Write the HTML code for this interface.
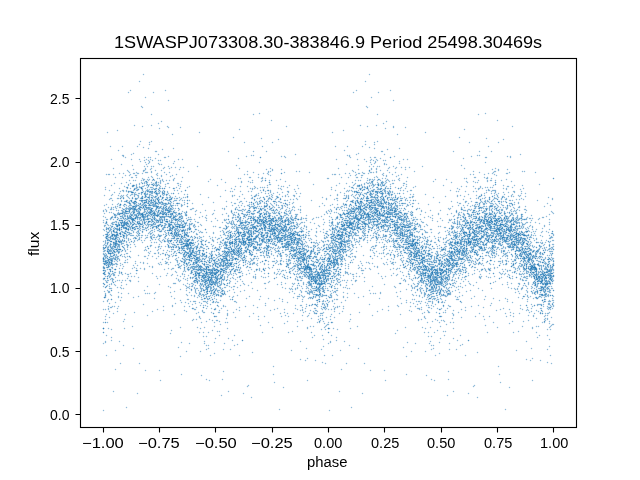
<!DOCTYPE html><html><head><meta charset="utf-8"><title>1SWASPJ073308.30-383846.9</title><style>
html,body{margin:0;padding:0;background:#fff}
body{width:640px;height:480px;position:relative;overflow:hidden;font-family:"Liberation Sans",sans-serif;color:#000}
.t{position:absolute;white-space:nowrap;line-height:1;transform-origin:0 0;will-change:transform}

</style></head><body>
<svg width="640" height="480" viewBox="0 0 640 480" style="position:absolute;left:0;top:0">
<defs>
<path id="a" d="M143 74.5h1m225 0h1M139 81.5h1m225 0h1M130 90.5h1m34 0h1m190 0h1m33 0h1M128 92.5h1m24 0h1m199 0h1m24 0h1M145 97.5h1m225 0h1M168 100.5h1m224 0h1M141 106.5h1m224 0h1M142 107.5h1m224 0h1M259 113.5h1m225 0h1M151 114.5h1m101 0h1m123 0h1m100 0h1M271 120.5h1m225 0h1M161 121.5h1m224 0h1M158 123.5h1m224 0h1M134 125.5h1m16 0h1m208 0h1m15 0h1M142 126.5h1m24 0h1m118 0h1m80 0h1m25 0h1m118 0h1M168 127.5h1m11 0h1m212 0h1m11 0h1M159 128.5h1m225 0h1M239 129.5h1m224 0h1M117 130.5h1m225 0h1M107 132.5h1m91 0h1m132 0h1m92 0h1M172 134.5h1m224 0h1M233 137.5h1m225 0h1M261 138.5h1m224 0h1M278 139.5h1m224 0h1M140 141.5h1m10 0h1m213 0h1m11 0h1M149 142.5h1m94 0h1m27 0h1m101 0h1m94 0h1m28 0h1M139 144.5h1m9 0h1m215 0h1m8 0h1M110 146.5h1m11 0h1m14 0h1m124 0h1m72 0h1m11 0h1m14 0h1m125 0h1M143 147.5h1m225 0h1M148 148.5h1m24 0h1m200 0h1m24 0h1M162 149.5h1m224 0h1M118 150.5h1m225 0h1M155 151.5h2m71 0h1m24 0h1m12 0h1m114 0h2m70 0h1m25 0h1m11 0h1M133 153.5h1m224 0h1M131 154.5h1m26 0h1m136 0h1m60 0h1m27 0h1m135 0h1M122 155.5h2m127 0h1m1 0h1m93 0h1m1 0h1m127 0h1m1 0h1M123 156.5h1m44 0h1m77 0h1m34 0h1m2 0h1m64 0h1m44 0h1m76 0h1m35 0h1m2 0h1M125 157.5h1m18 0h1m3 0h1m1 0h1m13 0h2m119 0h1m64 0h1m19 0h1m3 0h2m109 0h2m23 0h1M155 158.5h1m82 0h1m141 0h1m82 0h1M111 159.5h1m19 0h1m7 0h1m6 0h1m3 0h1m27 0h1m3 0h1m153 0h1m20 0h1m6 0h1m6 0h1m4 0h1m26 0h1m3 0h1M144 160.5h1m3 0h1m3 0h1m5 0h1m1 0h1m209 0h1m2 0h1m3 0h1m5 0h1m1 0h1M140 161.5h1m8 0h1m24 0h1m191 0h1m8 0h1m23 0h1M145 162.5h1m3 0h1m109 0h1m110 0h1m4 0h1m109 0h1M148 163.5h1m9 0h1m14 0h1m200 0h1m9 0h1m14 0h1M121 164.5h1m24 0h1m12 0h1m1 0h1m184 0h1m24 0h1m12 0h1m1 0h1M132 165.5h1m103 0h1m121 0h1m102 0h1M144 166.5h1m2 0h1m3 0h1m1 0h1m14 0h1m28 0h1m171 0h1m3 0h1m3 0h1m1 0h1m13 0h1m28 0h1M164 167.5h1m6 0h1m3 0h1m4 0h1m2 0h1m205 0h1m6 0h1m4 0h1m3 0h1m3 0h1M113 168.5h1m31 0h1m5 0h1m11 0h1m5 0h1m69 0h1m30 0h1m67 0h1m32 0h1m4 0h1m11 0h1m6 0h1m68 0h1m30 0h1M133 169.5h1m11 0h1m4 0h1m28 0h1m86 0h1m5 0h1m8 0h1m76 0h1m12 0h1m4 0h1m28 0h1m86 0h1m5 0h1m8 0h1M127 170.5h1m15 0h2m10 0h1m5 0h1m110 0h1m79 0h1m27 0h1m6 0h1m110 0h1M128 171.5h1m14 0h1m7 0h1m36 0h1m58 0h1m20 0h1m1 0h1m25 0h1m2 0h1m53 0h1m15 0h1m6 0h1m37 0h1m58 0h1m20 0h2m26 0h1m1 0h1M129 172.5h1m6 0h1m8 0h3m3 0h1m12 0h1m4 0h1m83 0h1m14 0h1m15 0h1m24 0h1m45 0h1m6 0h1m7 0h2m1 0h1m2 0h1m12 0h1m5 0h1m83 0h1m13 0h1m15 0h1m25 0h1M119 173.5h1m3 0h1m9 0h2m2 0h2m3 0h1m14 0h1m105 0h1m3 0h1m77 0h1m3 0h1m8 0h2m3 0h2m3 0h1m14 0h1m104 0h1m3 0h1m13 0h2M106 174.5h1m1 0h2m3 0h1m16 0h1m25 0h1m9 0h1m9 0h1m67 0h1m2 0h1m10 0h1m9 0h1m63 0h1m1 0h2m3 0h1m16 0h1m25 0h1m9 0h1m8 0h1m68 0h1m2 0h1m10 0h1m9 0h1M125 175.5h1m3 0h1m5 0h2m20 0h1m3 0h1m10 0h1m97 0h1m79 0h1m4 0h1m5 0h2m20 0h1m2 0h1m11 0h1m97 0h1M151 176.5h1m9 0h1m8 0h1m205 0h1m9 0h1m9 0h1M115 177.5h1m6 0h1m8 0h2m3 0h1m11 0h1m3 0h1m29 0h1m66 0h2m7 0h1m3 0h1m78 0h1m6 0h1m7 0h2m3 0h1m12 0h1m2 0h1m29 0h1m66 0h2m8 0h1m2 0h1M142 178.5h1m14 0h1m1 0h1m14 0h1m63 0h1m1 0h1m20 0h2m2 0h1m61 0h2m38 0h1m14 0h1m2 0h1m13 0h1m64 0h1m1 0h1m19 0h2m3 0h1M143 179.5h2m2 0h1m1 0h1m12 0h1m10 0h1m36 0h1m10 0h1m58 0h1m88 0h2m1 0h1m1 0h1m4 0h1m7 0h1m10 0h1m36 0h1m10 0h1m59 0h1M129 180.5h1m3 0h1m1 0h1m5 0h1m1 0h1m4 0h1m3 0h1m1 0h1m5 0h1m1 0h1m3 0h1m2 0h1m3 0h1m78 0h1m9 0h1m6 0h1m6 0h1m78 0h1m2 0h1m1 0h1m6 0h1m1 0h1m3 0h1m3 0h1m2 0h1m5 0h1m1 0h1m3 0h1m1 0h1m4 0h1m78 0h1m8 0h1m2 0h2m3 0h1m5 0h1M145 181.5h1m10 0h1m3 0h1m2 0h1m17 0h1m26 0h1m32 0h1m6 0h1m12 0h1m23 0h1m85 0h1m10 0h1m2 0h1m3 0h1m16 0h1m26 0h1m32 0h1m6 0h1m13 0h1m23 0h1M126 182.5h1m14 0h1m2 0h1m1 0h2m3 0h1m3 0h1m2 0h1m1 0h1m64 0h1m15 0h1m8 0h1m1 0h1m99 0h1m13 0h1m2 0h1m1 0h2m4 0h1m4 0h2m2 0h1m64 0h1m15 0h1m7 0h1m1 0h1M114 183.5h1m6 0h1m8 0h1m8 0h1m4 0h1m1 0h1m6 0h1m1 0h2m3 0h1m6 0h2m8 0h2m160 0h1m6 0h1m8 0h1m8 0h1m2 0h2m1 0h1m1 0h1m5 0h1m2 0h2m2 0h1m6 0h2m9 0h2M128 184.5h1m7 0h1m2 0h1m9 0h1m1 0h1m2 0h1m1 0h1m1 0h1m6 0h1m14 0h1m88 0h2m42 0h1m40 0h1m6 0h1m2 0h1m7 0h2m1 0h1m1 0h1m2 0h1m1 0h1m1 0h1m5 0h1m15 0h1m132 0h1M111 185.5h1m16 0h1m3 0h1m1 0h1m1 0h1m7 0h1m1 0h1m8 0h2m2 0h1m18 0h1m38 0h1m49 0h1m10 0h1m10 0h1m7 0h1m38 0h1m16 0h1m3 0h2m2 0h1m7 0h1m1 0h1m1 0h2m5 0h1m1 0h1m1 0h1m18 0h1m39 0h1m49 0h1m9 0h1m10 0h1m7 0h1M124 186.5h1m8 0h1m2 0h1m2 0h1m2 0h2m4 0h1m7 0h1m3 0h1m4 0h1m14 0h1m8 0h1m45 0h1m4 0h1m6 0h1m6 0h1m26 0h1m1 0h1m65 0h1m7 0h3m2 0h1m1 0h1m2 0h1m1 0h1m3 0h1m7 0h1m4 0h1m3 0h1m15 0h1m8 0h1m45 0h1m4 0h1m6 0h1m6 0h1m26 0h2M105 187.5h1m20 0h1m9 0h2m1 0h2m6 0h1m2 0h3m6 0h1m9 0h1m6 0h1m10 0h1m67 0h1m4 0h1m1 0h1m1 0h1m2 0h1m19 0h1m43 0h1m19 0h1m12 0h2m6 0h1m3 0h1m8 0h1m9 0h1m5 0h1m11 0h1m66 0h1m4 0h1m1 0h1m2 0h1m1 0h1m19 0h1M119 188.5h1m7 0h1m2 0h1m3 0h3m5 0h1m2 0h1m7 0h1m1 0h1m3 0h2m13 0h1m4 0h1m51 0h1m18 0h1m1 0h1m1 0h1m2 0h1m20 0h1m1 0h1m17 0h1m45 0h1m8 0h1m2 0h1m2 0h3m4 0h1m3 0h1m7 0h1m1 0h1m6 0h2m11 0h1m4 0h1m51 0h1m17 0h1m2 0h2m2 0h1m20 0h1m2 0h1m16 0h1M105 189.5h1m31 0h1m4 0h1m4 0h1m1 0h1m1 0h2m2 0h1m78 0h1m17 0h1m10 0h1m17 0h1m12 0h1m36 0h1m31 0h1m4 0h1m4 0h2m2 0h3m3 0h2m74 0h1m18 0h1m9 0h1m17 0h1m13 0h1M109 190.5h1m12 0h2m2 0h1m6 0h1m2 0h2m4 0h1m3 0h3m7 0h1m6 0h1m10 0h1m2 0h1m47 0h1m34 0h1m6 0h1m2 0h1m64 0h1m11 0h1m1 0h1m1 0h1m6 0h1m9 0h1m2 0h3m8 0h1m1 0h2m3 0h1m10 0h1m2 0h1m6 0h2m38 0h1m35 0h1m1 0h2m2 0h4M120 191.5h1m2 0h1m2 0h1m2 0h3m11 0h1m1 0h1m2 0h2m1 0h1m6 0h1m1 0h1m1 0h1m4 0h1m13 0h1m48 0h1m1 0h1m7 0h1m7 0h1m2 0h1m13 0h1m4 0h1m16 0h2m6 0h1m50 0h1m1 0h1m3 0h1m2 0h1m13 0h2m2 0h1m3 0h2m5 0h2m1 0h1m1 0h2m1 0h1m14 0h1m48 0h1m1 0h1m6 0h1m7 0h1m2 0h1m14 0h1m3 0h1m17 0h2m6 0h1M114 192.5h1m13 0h1m4 0h1m1 0h1m9 0h1m3 0h4m3 0h1m2 0h1m4 0h1m2 0h1m93 0h1m8 0h1m6 0h1m4 0h1m5 0h1m51 0h1m13 0h1m1 0h1m1 0h2m1 0h1m6 0h1m1 0h1m4 0h2m5 0h1m2 0h1m4 0h1m1 0h1m93 0h1m8 0h1m7 0h1m4 0h1m5 0h1M119 193.5h1m14 0h1m3 0h2m1 0h1m3 0h1m1 0h1m3 0h2m2 0h1m1 0h3m2 0h1m1 0h1m3 0h1m2 0h1m6 0h1m79 0h1m6 0h1m2 0h1m4 0h1m22 0h1m3 0h1m43 0h1m15 0h1m3 0h3m4 0h1m1 0h1m6 0h1m2 0h1m1 0h1m1 0h1m1 0h1m4 0h1m2 0h1m5 0h1m80 0h1m6 0h1m2 0h1m3 0h1m22 0h1m3 0h1M112 194.5h1m14 0h1m3 0h2m1 0h3m4 0h1m2 0h4m1 0h2m5 0h2m4 0h1m1 0h1m2 0h1m16 0h1m2 0h1m12 0h1m41 0h1m13 0h1m14 0h1m7 0h1m7 0h1m49 0h1m14 0h1m3 0h1m1 0h1m3 0h1m3 0h1m2 0h4m2 0h2m11 0h2m2 0h1m17 0h1m2 0h1m11 0h1m42 0h1m12 0h1m14 0h1m7 0h1m7 0h1M104 195.5h1m6 0h1m6 0h1m2 0h1m1 0h1m2 0h1m3 0h1m3 0h1m2 0h2m10 0h1m1 0h2m4 0h1m2 0h1m2 0h1m2 0h1m2 0h1m62 0h1m1 0h1m16 0h1m3 0h2m1 0h1m10 0h1m2 0h1m12 0h1m7 0h2m35 0h1m6 0h1m6 0h1m1 0h1m1 0h1m2 0h1m3 0h1m3 0h1m15 0h1m6 0h1m3 0h1m2 0h1m1 0h1m3 0h1m61 0h1m2 0h1m15 0h1m7 0h1m9 0h1m2 0h1m13 0h1m6 0h1m1 0h1M120 196.5h1m1 0h1m4 0h1m6 0h1m3 0h1m7 0h1m2 0h1m3 0h1m2 0h1m13 0h1m4 0h1m44 0h1m11 0h1m6 0h1m15 0h1m10 0h2m3 0h1m4 0h2m4 0h1m2 0h1m2 0h1m5 0h1m4 0h1m46 0h1m1 0h1m4 0h1m5 0h1m4 0h1m7 0h1m1 0h1m3 0h1m3 0h1m12 0h1m4 0h1m11 0h2m31 0h1m11 0h1m6 0h1m15 0h1m16 0h1m4 0h2m4 0h1m2 0h1m1 0h1m5 0h1m5 0h1M121 197.5h1m1 0h1m4 0h1m3 0h1m5 0h1m2 0h2m1 0h2m1 0h1m1 0h1m2 0h1m1 0h2m7 0h1m2 0h2m1 0h2m1 0h1m6 0h1m3 0h1m1 0h1m1 0h1m20 0h1m43 0h1m7 0h1m8 0h1m2 0h1m5 0h1m43 0h1m23 0h1m1 0h1m5 0h1m2 0h1m5 0h1m2 0h2m2 0h4m1 0h2m10 0h3m1 0h1m1 0h1m4 0h1m5 0h1m4 0h2m1 0h1m20 0h1m44 0h1m6 0h1m8 0h1m3 0h1m5 0h1m43 0h1M110 198.5h2m5 0h2m10 0h1m6 0h2m2 0h1m8 0h1m2 0h1m3 0h3m8 0h1m6 0h1m1 0h2m3 0h1m62 0h1m6 0h2m4 0h1m1 0h1m4 0h1m3 0h3m5 0h1m3 0h1m15 0h1m29 0h1m9 0h2m5 0h2m10 0h1m1 0h2m4 0h1m11 0h1m1 0h1m3 0h1m10 0h1m7 0h3m3 0h1m63 0h1m5 0h1m1 0h1m3 0h1m1 0h1m4 0h1m4 0h3m4 0h1m4 0h1m14 0h1m30 0h1M109 199.5h1m25 0h2m10 0h1m1 0h1m1 0h1m1 0h1m1 0h1m3 0h1m1 0h1m9 0h1m8 0h1m56 0h1m30 0h1m6 0h1m14 0h1m2 0h1m3 0h1m28 0h1m7 0h1m25 0h1m1 0h1m8 0h3m1 0h2m1 0h1m1 0h1m2 0h2m2 0h1m3 0h2m2 0h3m7 0h1m57 0h1m29 0h1m7 0h1m3 0h2m9 0h1m2 0h1m3 0h1m28 0h1M112 200.5h1m8 0h1m4 0h2m2 0h1m8 0h2m2 0h1m2 0h1m1 0h1m1 0h1m4 0h1m7 0h1m3 0h3m4 0h3m2 0h1m2 0h1m1 0h1m4 0h1m64 0h1m5 0h2m5 0h1m16 0h2m1 0h1m23 0h1m25 0h1m9 0h1m4 0h2m2 0h1m7 0h1m3 0h2m4 0h1m1 0h1m4 0h1m2 0h1m3 0h1m3 0h3m5 0h1m4 0h1m1 0h1m2 0h1m4 0h1m64 0h1m4 0h1m1 0h1m4 0h1m16 0h2m1 0h1m24 0h1M121 201.5h1m2 0h2m3 0h1m11 0h2m5 0h1m2 0h1m3 0h1m5 0h1m11 0h1m52 0h1m13 0h2m4 0h1m9 0h1m11 0h1m6 0h1m2 0h2m66 0h1m3 0h1m4 0h1m10 0h2m5 0h3m1 0h1m1 0h3m4 0h1m8 0h2m2 0h1m51 0h1m13 0h2m4 0h1m9 0h1m2 0h2m1 0h2m5 0h1m6 0h1m1 0h1m1 0h1M127 202.5h3m2 0h1m1 0h1m7 0h1m5 0h1m1 0h2m1 0h1m1 0h2m1 0h1m1 0h2m6 0h1m2 0h1m12 0h1m28 0h1m17 0h1m7 0h1m9 0h1m5 0h1m1 0h1m2 0h1m3 0h1m11 0h1m3 0h2m7 0h1m3 0h1m58 0h2m1 0h1m1 0h1m2 0h3m5 0h2m2 0h2m1 0h1m4 0h2m3 0h1m8 0h1m2 0h1m11 0h1m29 0h1m17 0h1m7 0h1m9 0h1m1 0h1m2 0h1m1 0h1m2 0h1m3 0h1m11 0h1m12 0h1m3 0h1M118 203.5h1m11 0h1m2 0h1m1 0h1m2 0h1m4 0h2m2 0h1m2 0h2m1 0h1m2 0h1m2 0h2m1 0h3m1 0h1m2 0h2m2 0h1m2 0h1m1 0h2m12 0h1m41 0h2m6 0h1m14 0h1m1 0h2m3 0h1m5 0h1m3 0h1m8 0h1m8 0h1m29 0h1m20 0h1m14 0h4m1 0h1m8 0h3m4 0h2m1 0h2m4 0h1m10 0h1m1 0h1m1 0h3m6 0h2m4 0h1m40 0h2m7 0h1m14 0h2m1 0h1m3 0h3m2 0h1m3 0h1m9 0h2m7 0h1m28 0h1M106 204.5h1m5 0h1m4 0h1m7 0h1m4 0h1m3 0h1m1 0h1m2 0h2m1 0h2m1 0h1m6 0h4m2 0h1m2 0h3m1 0h3m2 0h1m10 0h1m2 0h1m17 0h1m46 0h1m1 0h1m1 0h1m3 0h2m8 0h1m3 0h1m4 0h1m9 0h2m1 0h1m42 0h1m4 0h1m5 0h1m2 0h1m8 0h1m3 0h1m1 0h1m2 0h2m1 0h2m2 0h1m2 0h2m1 0h3m1 0h1m1 0h1m2 0h1m3 0h1m4 0h1m11 0h1m2 0h1m17 0h1m46 0h1m1 0h1m1 0h1m3 0h2m8 0h1m2 0h1m4 0h1m12 0h1M104 205.5h1m14 0h2m2 0h1m2 0h1m2 0h3m3 0h3m3 0h2m2 0h1m2 0h1m2 0h6m8 0h1m4 0h4m1 0h1m1 0h1m3 0h2m49 0h1m5 0h1m2 0h1m5 0h2m5 0h1m9 0h1m1 0h2m4 0h1m3 0h1m1 0h1m2 0h2m1 0h1m2 0h1m36 0h1m5 0h1m13 0h1m1 0h1m2 0h1m1 0h1m3 0h1m4 0h2m1 0h1m6 0h4m3 0h3m2 0h1m6 0h3m3 0h3m1 0h2m1 0h1m4 0h2m49 0h1m4 0h1m3 0h1m4 0h1m1 0h1m4 0h1m10 0h3m4 0h1m4 0h2m5 0h1m2 0h1m37 0h1M115 206.5h1m1 0h1m6 0h1m3 0h1m3 0h1m2 0h1m3 0h2m13 0h2m4 0h2m1 0h1m5 0h1m11 0h1m44 0h1m17 0h1m6 0h3m3 0h1m1 0h1m1 0h1m11 0h1m8 0h1m2 0h1m7 0h1m6 0h1m18 0h1m21 0h2m6 0h1m3 0h1m11 0h2m11 0h3m4 0h2m1 0h1m5 0h1m1 0h2m8 0h1m45 0h1m17 0h1m3 0h3m6 0h2m1 0h1m2 0h1m2 0h1m1 0h2m2 0h1m8 0h1m2 0h1m8 0h1m5 0h1m18 0h1M108 207.5h1m2 0h1m1 0h1m1 0h1m3 0h2m5 0h1m2 0h2m1 0h2m5 0h1m5 0h1m1 0h1m1 0h2m5 0h1m2 0h1m8 0h2m2 0h1m63 0h1m2 0h1m10 0h1m2 0h2m1 0h1m7 0h1m4 0h1m2 0h1m1 0h1m3 0h2m2 0h1m4 0h1m4 0h1m1 0h1m39 0h1m2 0h2m1 0h1m3 0h1m1 0h1m4 0h1m2 0h1m1 0h1m1 0h2m4 0h2m1 0h1m5 0h2m8 0h2m5 0h2m1 0h2m2 0h1m63 0h1m2 0h1m10 0h1m3 0h1m1 0h2m6 0h1m4 0h1m2 0h1m2 0h1m2 0h1m1 0h1m1 0h1m5 0h1m4 0h2M111 208.5h1m4 0h1m5 0h1m2 0h6m1 0h2m1 0h1m6 0h1m1 0h1m1 0h4m8 0h2m1 0h4m6 0h1m1 0h1m1 0h1m16 0h2m28 0h1m1 0h1m10 0h1m17 0h1m2 0h1m1 0h1m3 0h2m3 0h1m2 0h1m10 0h2m6 0h1m46 0h1m4 0h1m6 0h1m2 0h2m2 0h1m2 0h2m8 0h1m1 0h1m3 0h3m1 0h1m4 0h2m1 0h1m2 0h1m1 0h4m1 0h1m2 0h1m1 0h1m15 0h1m1 0h1m28 0h1m1 0h1m10 0h1m12 0h2m2 0h1m2 0h1m1 0h1m1 0h3m1 0h1m2 0h1m2 0h1m10 0h2m6 0h1M105 209.5h1m4 0h2m1 0h1m10 0h1m1 0h1m1 0h2m2 0h2m2 0h2m1 0h1m5 0h2m1 0h2m1 0h1m3 0h2m5 0h2m2 0h2m1 0h4m6 0h1m10 0h2m32 0h1m12 0h1m4 0h2m1 0h1m18 0h2m3 0h2m2 0h1m6 0h1m5 0h1m5 0h1m5 0h1m1 0h1m29 0h1m8 0h1m8 0h3m1 0h5m5 0h1m3 0h1m2 0h2m3 0h1m5 0h2m5 0h2m2 0h2m12 0h1m43 0h1m12 0h1m5 0h2m1 0h1m17 0h1m1 0h1m2 0h1m1 0h1m2 0h1m1 0h2m3 0h1m4 0h1m5 0h1m6 0h2M103 210.5h1m2 0h1m9 0h1m1 0h1m2 0h2m10 0h2m3 0h1m1 0h1m3 0h1m2 0h1m2 0h1m2 0h1m1 0h1m3 0h1m1 0h1m1 0h1m2 0h1m2 0h2m3 0h1m3 0h1m17 0h1m8 0h1m8 0h1m16 0h1m6 0h4m2 0h1m10 0h1m3 0h1m1 0h1m2 0h2m5 0h2m2 0h1m1 0h1m7 0h1m3 0h1m1 0h1m2 0h1m5 0h1m27 0h1m2 0h1m10 0h1m1 0h1m1 0h2m2 0h2m2 0h2m2 0h1m1 0h4m2 0h1m3 0h1m2 0h1m1 0h1m2 0h1m2 0h1m1 0h1m2 0h1m2 0h1m1 0h1m3 0h2m3 0h1m2 0h1m17 0h1m8 0h1m9 0h1m15 0h1m6 0h3m1 0h1m2 0h1m10 0h1m2 0h1m1 0h1m2 0h1m1 0h1m4 0h2m3 0h2m7 0h1m3 0h1m1 0h1m2 0h1m6 0h1M103 211.5h1m2 0h1m15 0h2m4 0h1m3 0h3m1 0h4m4 0h2m1 0h1m1 0h3m2 0h1m1 0h1m4 0h1m1 0h1m4 0h1m1 0h2m10 0h1m3 0h1m8 0h1m46 0h1m4 0h1m2 0h1m2 0h1m4 0h1m7 0h2m6 0h1m4 0h1m6 0h1m1 0h1m1 0h1m35 0h1m2 0h1m1 0h1m15 0h1m1 0h2m6 0h1m1 0h3m2 0h1m4 0h1m1 0h2m1 0h1m1 0h1m2 0h1m1 0h1m14 0h1m1 0h2m8 0h1m2 0h1m9 0h1m45 0h1m5 0h1m2 0h1m1 0h1m4 0h3m13 0h1m4 0h1m6 0h1m1 0h1m1 0h1m35 0h1M109 212.5h1m1 0h1m6 0h1m3 0h4m3 0h1m1 0h1m6 0h1m4 0h2m1 0h1m2 0h1m1 0h1m1 0h1m3 0h2m3 0h3m2 0h1m1 0h1m3 0h1m1 0h2m7 0h1m15 0h1m30 0h1m2 0h1m1 0h1m9 0h3m9 0h1m4 0h1m2 0h1m1 0h1m3 0h1m1 0h1m1 0h1m1 0h1m2 0h1m8 0h1m9 0h1m25 0h1m7 0h1m1 0h1m6 0h1m5 0h1m1 0h1m2 0h1m1 0h1m1 0h2m3 0h3m2 0h1m1 0h2m1 0h1m14 0h1m1 0h4m5 0h1m1 0h1m8 0h1m14 0h1m30 0h1m2 0h1m1 0h1m11 0h3m7 0h1m5 0h1m2 0h1m1 0h1m2 0h1m1 0h1m1 0h1m2 0h1m2 0h1m8 0h1m8 0h1m26 0h1M104 213.5h1m8 0h1m3 0h3m4 0h2m1 0h2m1 0h1m7 0h1m1 0h2m5 0h1m2 0h1m1 0h1m2 0h1m1 0h1m1 0h1m1 0h3m6 0h2m3 0h1m2 0h1m6 0h1m27 0h1m12 0h1m5 0h1m5 0h1m2 0h1m10 0h3m4 0h2m3 0h3m1 0h3m2 0h3m2 0h1m5 0h3m2 0h2m36 0h1m2 0h1m7 0h1m5 0h1m6 0h2m2 0h1m9 0h1m2 0h1m4 0h1m3 0h1m2 0h1m1 0h1m1 0h2m1 0h6m2 0h3m3 0h1m4 0h2m3 0h1m26 0h1m12 0h1m6 0h1m4 0h1m4 0h1m15 0h4m1 0h3m4 0h1m2 0h1m5 0h1m3 0h1m1 0h2m2 0h2m36 0h1M115 214.5h1m1 0h2m4 0h2m5 0h3m1 0h3m1 0h3m2 0h2m3 0h1m1 0h1m1 0h1m2 0h1m1 0h3m11 0h1m4 0h1m1 0h3m4 0h2m8 0h1m16 0h1m9 0h1m10 0h2m8 0h3m3 0h1m2 0h2m15 0h1m9 0h1m6 0h2m7 0h3m26 0h1m14 0h1m2 0h1m2 0h1m2 0h2m5 0h2m1 0h4m3 0h1m3 0h1m4 0h1m1 0h1m2 0h4m6 0h1m1 0h2m2 0h1m1 0h2m3 0h1m3 0h1m3 0h1m1 0h1m7 0h1m17 0h1m8 0h1m10 0h2m3 0h2m3 0h2m1 0h1m3 0h1m1 0h2m6 0h1m5 0h2m2 0h1m8 0h1m6 0h2m9 0h1m26 0h1M114 215.5h3m5 0h1m1 0h2m1 0h1m1 0h1m2 0h1m1 0h2m4 0h1m2 0h1m1 0h1m2 0h2m1 0h1m2 0h2m10 0h1m4 0h1m1 0h1m1 0h1m1 0h1m3 0h1m3 0h1m20 0h1m21 0h1m4 0h1m1 0h1m3 0h1m4 0h1m17 0h1m5 0h1m1 0h1m5 0h2m2 0h1m3 0h2m2 0h1m2 0h1m4 0h1m9 0h1m34 0h1m5 0h1m5 0h1m1 0h1m1 0h1m2 0h1m1 0h1m3 0h1m4 0h1m2 0h2m1 0h1m1 0h2m11 0h1m3 0h1m2 0h2m2 0h1m2 0h1m5 0h1m19 0h1m21 0h1m3 0h1m1 0h1m3 0h1m4 0h1m14 0h2m2 0h1m4 0h1m7 0h2m2 0h1m7 0h1m3 0h1m3 0h1m9 0h1M103 216.5h1m8 0h1m2 0h1m5 0h2m1 0h2m3 0h1m3 0h1m3 0h1m3 0h1m2 0h3m3 0h1m1 0h1m1 0h1m4 0h3m1 0h5m1 0h1m1 0h1m1 0h2m1 0h1m2 0h4m19 0h1m25 0h1m8 0h2m4 0h1m4 0h4m1 0h1m1 0h1m3 0h1m2 0h1m4 0h2m3 0h1m1 0h1m5 0h1m2 0h1m7 0h1m3 0h2m24 0h1m7 0h1m7 0h1m2 0h1m4 0h2m2 0h1m1 0h3m2 0h1m1 0h1m4 0h1m2 0h2m3 0h2m3 0h2m2 0h1m1 0h4m3 0h1m2 0h1m1 0h1m2 0h2m1 0h1m1 0h1m1 0h2m22 0h1m24 0h1m8 0h2m4 0h3m2 0h4m2 0h1m1 0h1m2 0h1m2 0h1m2 0h2m1 0h1m4 0h2m5 0h1m1 0h1m1 0h1m7 0h1m3 0h2m23 0h1M105 217.5h1m6 0h1m1 0h1m2 0h1m4 0h2m3 0h4m5 0h1m1 0h2m2 0h1m1 0h2m1 0h1m13 0h3m5 0h1m10 0h1m1 0h1m5 0h1m1 0h1m8 0h1m5 0h1m26 0h2m1 0h1m1 0h2m6 0h1m7 0h2m3 0h3m5 0h1m2 0h1m4 0h2m2 0h2m1 0h1m1 0h1m2 0h2m2 0h1m1 0h1m2 0h1m5 0h1m14 0h1m1 0h1m12 0h1m4 0h1m3 0h1m1 0h1m10 0h2m1 0h2m2 0h1m5 0h4m3 0h1m3 0h2m6 0h1m2 0h1m11 0h1m4 0h1m1 0h1m5 0h1m1 0h1m8 0h1m5 0h1m26 0h2m1 0h1m10 0h1m12 0h3m1 0h1m1 0h1m1 0h1m1 0h1m11 0h1m1 0h1m3 0h2m2 0h2m3 0h1m5 0h1m14 0h2M110 218.5h2m6 0h1m1 0h2m5 0h1m1 0h1m1 0h1m1 0h2m2 0h1m1 0h2m2 0h2m2 0h4m2 0h3m3 0h1m1 0h1m2 0h1m6 0h3m1 0h1m2 0h1m3 0h1m3 0h1m19 0h1m8 0h1m16 0h1m6 0h2m2 0h1m8 0h1m10 0h1m5 0h1m5 0h1m3 0h2m1 0h1m3 0h1m1 0h1m1 0h2m2 0h1m1 0h1m4 0h1m1 0h1m1 0h2m6 0h1m22 0h2m5 0h1m1 0h2m3 0h4m1 0h1m2 0h1m2 0h2m5 0h2m2 0h1m1 0h1m3 0h1m6 0h2m3 0h1m6 0h3m1 0h1m1 0h1m4 0h1m2 0h1m20 0h1m7 0h1m16 0h1m6 0h2m3 0h1m3 0h2m1 0h1m2 0h1m8 0h1m1 0h2m2 0h1m2 0h1m3 0h1m5 0h2m3 0h2m1 0h1m1 0h1m1 0h2m5 0h1m2 0h2m1 0h1m6 0h1M106 219.5h2m2 0h1m2 0h1m10 0h1m1 0h2m9 0h1m1 0h1m1 0h1m2 0h3m5 0h1m3 0h1m2 0h4m4 0h1m3 0h1m1 0h2m5 0h1m7 0h4m2 0h1m29 0h1m1 0h1m8 0h2m2 0h2m6 0h1m5 0h1m1 0h1m1 0h1m3 0h3m8 0h2m2 0h1m1 0h1m1 0h2m3 0h1m1 0h1m4 0h2m3 0h1m2 0h2m10 0h1m10 0h1m11 0h1m3 0h1m9 0h1m1 0h2m3 0h1m6 0h2m2 0h1m1 0h1m1 0h2m1 0h1m3 0h1m3 0h1m1 0h1m2 0h1m3 0h1m5 0h1m4 0h5m6 0h2m1 0h2m2 0h1m28 0h1m1 0h1m8 0h2m10 0h1m5 0h1m1 0h3m1 0h1m16 0h1m1 0h1m1 0h1m1 0h1m3 0h1m6 0h2m2 0h2m1 0h2m11 0h1m10 0h1M103 220.5h1m16 0h1m4 0h1m2 0h2m3 0h1m6 0h2m1 0h2m6 0h2m2 0h2m1 0h3m3 0h1m4 0h1m1 0h2m3 0h1m4 0h1m1 0h1m22 0h1m10 0h1m6 0h2m6 0h1m7 0h1m1 0h1m2 0h1m4 0h1m5 0h1m2 0h3m2 0h1m3 0h1m2 0h1m1 0h1m3 0h1m1 0h2m3 0h1m1 0h4m2 0h2m1 0h1m10 0h1m22 0h1m16 0h1m1 0h1m1 0h1m9 0h1m4 0h2m1 0h1m1 0h1m11 0h1m2 0h1m1 0h3m4 0h1m1 0h2m4 0h3m1 0h1m2 0h1m2 0h2m18 0h1m9 0h1m6 0h2m6 0h1m5 0h2m1 0h2m2 0h1m4 0h1m2 0h2m4 0h1m1 0h1m4 0h1m7 0h2m3 0h2m1 0h3m2 0h2m1 0h1m1 0h2m2 0h1m9 0h1M106 221.5h1m8 0h2m5 0h1m4 0h1m7 0h1m1 0h3m2 0h1m1 0h1m1 0h1m3 0h1m2 0h1m2 0h1m3 0h1m1 0h1m2 0h1m3 0h1m1 0h1m5 0h1m1 0h2m1 0h1m7 0h1m4 0h1m15 0h1m17 0h1m1 0h1m1 0h1m5 0h2m4 0h3m8 0h2m9 0h5m2 0h1m1 0h1m1 0h1m5 0h1m47 0h1m8 0h2m4 0h1m1 0h2m2 0h1m3 0h2m2 0h4m3 0h1m1 0h1m1 0h2m1 0h2m1 0h1m3 0h1m3 0h1m1 0h1m5 0h1m2 0h1m5 0h2m1 0h4m5 0h1m5 0h1m15 0h1m16 0h1m2 0h1m1 0h1m2 0h3m1 0h1m3 0h3m8 0h1m1 0h1m4 0h1m5 0h1m2 0h2m3 0h1m1 0h1m2 0h2m2 0h1m3 0h2M103 222.5h1m8 0h3m1 0h1m1 0h1m2 0h1m1 0h1m1 0h1m1 0h1m4 0h2m5 0h1m2 0h1m2 0h1m5 0h1m4 0h3m8 0h1m2 0h1m1 0h2m1 0h1m1 0h1m3 0h1m2 0h1m1 0h1m10 0h2m23 0h1m3 0h1m2 0h1m1 0h1m1 0h1m6 0h1m2 0h2m1 0h1m7 0h2m2 0h1m3 0h1m3 0h2m2 0h1m4 0h1m1 0h1m2 0h1m1 0h3m3 0h2m1 0h2m3 0h1m4 0h2m1 0h1m5 0h1m13 0h1m4 0h1m1 0h1m5 0h1m3 0h1m1 0h1m2 0h3m2 0h3m9 0h2m3 0h4m5 0h1m4 0h3m1 0h1m5 0h1m2 0h1m2 0h1m2 0h1m1 0h1m2 0h1m3 0h1m1 0h1m9 0h2m24 0h1m3 0h1m1 0h1m2 0h1m1 0h1m5 0h1m7 0h1m5 0h2m1 0h3m2 0h2m8 0h1m3 0h2m3 0h2m1 0h2m2 0h1m1 0h5m1 0h1m4 0h2m2 0h1m4 0h1m13 0h1M105 223.5h2m4 0h2m5 0h1m4 0h1m2 0h1m1 0h1m1 0h2m5 0h1m2 0h1m1 0h1m4 0h1m7 0h1m8 0h2m2 0h2m4 0h1m2 0h1m3 0h1m2 0h1m1 0h1m2 0h1m1 0h2m34 0h2m1 0h2m1 0h1m8 0h1m2 0h1m3 0h1m4 0h1m2 0h1m2 0h4m1 0h2m5 0h1m2 0h1m3 0h3m3 0h1m2 0h1m1 0h2m1 0h1m3 0h1m2 0h1m13 0h1m16 0h2m4 0h2m4 0h1m3 0h1m7 0h1m1 0h1m1 0h2m2 0h1m2 0h1m1 0h1m4 0h1m4 0h3m8 0h2m9 0h1m1 0h1m4 0h1m1 0h4m1 0h1m38 0h3m1 0h1m1 0h1m6 0h3m1 0h1m4 0h1m4 0h1m6 0h2m9 0h1m1 0h1m5 0h1m4 0h1m1 0h1m2 0h2m1 0h1m2 0h1m2 0h1m13 0h1M107 224.5h1m4 0h2m4 0h1m2 0h1m1 0h1m1 0h1m2 0h1m1 0h1m1 0h1m2 0h2m1 0h1m3 0h1m2 0h1m1 0h9m3 0h1m5 0h2m1 0h1m5 0h4m1 0h2m1 0h2m1 0h1m3 0h3m2 0h1m5 0h1m30 0h2m3 0h1m3 0h1m2 0h1m4 0h1m2 0h2m7 0h2m6 0h1m7 0h1m3 0h1m1 0h1m6 0h1m6 0h2m1 0h1m23 0h1m8 0h1m4 0h2m3 0h1m3 0h1m2 0h1m3 0h1m1 0h1m1 0h1m3 0h2m1 0h1m1 0h1m4 0h1m1 0h4m1 0h2m1 0h1m2 0h1m5 0h1m1 0h3m2 0h1m1 0h3m2 0h1m1 0h1m1 0h3m4 0h3m1 0h1m6 0h1m32 0h2m1 0h1m2 0h1m3 0h1m3 0h1m2 0h4m5 0h1m1 0h2m1 0h1m1 0h2m2 0h1m6 0h2m1 0h2m4 0h1m9 0h3m24 0h1M104 225.5h2m2 0h1m1 0h1m5 0h1m1 0h1m7 0h2m1 0h1m9 0h1m3 0h1m2 0h1m1 0h1m3 0h1m4 0h1m1 0h1m1 0h1m2 0h2m2 0h1m1 0h1m1 0h1m2 0h1m4 0h2m3 0h1m1 0h1m1 0h1m3 0h2m6 0h1m23 0h1m9 0h1m2 0h1m2 0h6m3 0h3m3 0h2m1 0h3m1 0h1m1 0h1m3 0h3m1 0h1m3 0h4m2 0h3m5 0h1m1 0h2m2 0h1m6 0h1m13 0h1m10 0h1m1 0h1m1 0h1m1 0h1m10 0h1m1 0h1m2 0h2m2 0h1m9 0h1m2 0h1m3 0h1m1 0h1m2 0h1m4 0h1m2 0h6m5 0h2m2 0h1m3 0h3m1 0h1m2 0h2m1 0h1m4 0h2m6 0h1m23 0h1m9 0h1m1 0h1m2 0h2m2 0h1m1 0h1m2 0h3m3 0h2m4 0h2m1 0h1m4 0h2m1 0h1m9 0h1m1 0h2m4 0h1m5 0h1m7 0h1m13 0h1M104 226.5h1m6 0h1m4 0h1m6 0h1m3 0h1m1 0h1m5 0h1m1 0h1m1 0h2m7 0h1m1 0h1m2 0h3m8 0h1m3 0h1m3 0h1m2 0h1m2 0h1m3 0h2m5 0h1m3 0h1m1 0h1m2 0h1m14 0h1m1 0h1m12 0h1m3 0h1m1 0h1m1 0h1m4 0h1m3 0h1m2 0h1m3 0h1m2 0h1m2 0h1m1 0h1m2 0h1m4 0h1m3 0h1m5 0h1m1 0h1m5 0h1m3 0h3m2 0h1m2 0h1m5 0h1m1 0h1m12 0h1m10 0h1m5 0h1m4 0h1m1 0h1m8 0h4m4 0h1m2 0h1m9 0h1m2 0h1m1 0h1m1 0h1m1 0h3m1 0h2m1 0h1m5 0h1m1 0h3m4 0h2m2 0h1m6 0h1m2 0h1m1 0h1m3 0h1m13 0h1m1 0h1m10 0h3m3 0h1m1 0h1m1 0h1m4 0h1m3 0h1m2 0h1m3 0h1m2 0h3m2 0h1m2 0h1m4 0h1m3 0h1m2 0h2m5 0h1m7 0h3m3 0h1m1 0h1m5 0h1m2 0h1m11 0h1M106 227.5h1m2 0h1m1 0h1m2 0h1m4 0h1m4 0h1m1 0h1m2 0h2m2 0h1m5 0h1m2 0h2m1 0h1m7 0h1m3 0h1m5 0h1m1 0h1m6 0h1m1 0h1m2 0h1m2 0h2m2 0h1m9 0h1m24 0h2m5 0h2m3 0h1m1 0h1m2 0h5m1 0h1m2 0h3m2 0h1m2 0h1m7 0h1m3 0h2m2 0h1m3 0h5m3 0h3m12 0h2m3 0h1m4 0h1m25 0h1m2 0h1m1 0h1m1 0h1m4 0h1m1 0h1m1 0h1m1 0h3m1 0h1m1 0h2m6 0h1m3 0h3m6 0h1m5 0h1m4 0h1m6 0h3m4 0h1m3 0h1m2 0h2m9 0h1m23 0h2m6 0h2m2 0h1m1 0h1m4 0h1m4 0h2m6 0h2m8 0h1m4 0h1m2 0h1m1 0h2m2 0h1m6 0h3m1 0h2m1 0h2m5 0h1m1 0h1m3 0h1m4 0h1M106 228.5h2m2 0h1m2 0h1m2 0h2m5 0h2m3 0h1m1 0h1m2 0h1m1 0h1m2 0h1m1 0h1m4 0h2m3 0h1m1 0h1m3 0h1m1 0h1m3 0h2m5 0h3m3 0h3m9 0h3m33 0h2m7 0h1m1 0h1m1 0h2m4 0h3m1 0h2m1 0h2m4 0h1m3 0h1m5 0h1m1 0h2m2 0h1m1 0h2m5 0h4m1 0h2m2 0h3m1 0h1m2 0h1m3 0h1m2 0h1m12 0h1m16 0h3m3 0h2m2 0h2m4 0h2m1 0h1m1 0h1m1 0h2m1 0h2m1 0h1m2 0h1m5 0h2m3 0h1m1 0h1m2 0h1m1 0h1m14 0h1m1 0h3m10 0h2m1 0h1m34 0h1m5 0h1m2 0h1m8 0h1m1 0h2m5 0h2m2 0h1m2 0h1m5 0h3m1 0h1m3 0h1m10 0h2m5 0h4m1 0h1m2 0h1m2 0h1m13 0h1M103 229.5h1m4 0h1m1 0h2m2 0h1m1 0h1m1 0h1m7 0h2m2 0h1m4 0h1m3 0h1m2 0h3m3 0h1m5 0h1m7 0h2m5 0h1m2 0h1m1 0h3m1 0h1m1 0h1m2 0h1m1 0h1m1 0h1m2 0h1m5 0h1m28 0h1m10 0h3m3 0h1m1 0h5m4 0h1m2 0h1m5 0h1m1 0h2m4 0h1m6 0h3m3 0h1m2 0h1m3 0h1m1 0h1m8 0h1m4 0h1m4 0h1m11 0h1m5 0h1m3 0h1m1 0h2m3 0h3m2 0h1m7 0h1m1 0h1m5 0h1m2 0h1m3 0h1m5 0h1m4 0h1m4 0h2m1 0h2m5 0h1m2 0h1m2 0h3m1 0h1m1 0h1m2 0h1m1 0h2m7 0h3m7 0h2m19 0h1m9 0h3m4 0h1m3 0h1m5 0h1m2 0h1m2 0h1m1 0h1m1 0h3m6 0h1m3 0h1m1 0h1m2 0h1m2 0h2m3 0h1m1 0h2m8 0h1m5 0h1m3 0h1m12 0h1M104 230.5h1m4 0h2m6 0h1m7 0h1m2 0h1m2 0h2m5 0h1m1 0h1m10 0h2m4 0h2m2 0h1m3 0h1m2 0h1m1 0h1m3 0h2m3 0h1m1 0h1m2 0h2m1 0h1m10 0h1m23 0h1m6 0h1m8 0h1m4 0h1m4 0h1m1 0h2m2 0h1m7 0h1m1 0h1m2 0h1m1 0h2m3 0h1m3 0h1m3 0h1m3 0h3m1 0h1m1 0h1m9 0h1m27 0h1m3 0h1m1 0h1m2 0h1m3 0h2m5 0h1m2 0h1m9 0h1m1 0h1m11 0h2m3 0h2m3 0h1m3 0h1m1 0h1m1 0h1m1 0h1m1 0h2m1 0h2m1 0h1m3 0h2m2 0h1m10 0h1m22 0h1m6 0h1m8 0h1m5 0h1m3 0h1m1 0h2m2 0h3m1 0h2m2 0h1m3 0h4m3 0h1m2 0h2m1 0h1m8 0h3m1 0h1m10 0h1M106 231.5h1m2 0h1m1 0h1m2 0h1m1 0h1m4 0h2m3 0h1m6 0h1m3 0h2m11 0h1m3 0h1m4 0h1m1 0h1m2 0h1m7 0h1m5 0h2m1 0h1m2 0h1m9 0h1m5 0h1m19 0h1m2 0h1m3 0h2m2 0h1m2 0h2m1 0h2m7 0h1m3 0h2m3 0h1m4 0h1m10 0h4m5 0h1m5 0h2m3 0h1m2 0h1m4 0h2m1 0h2m4 0h2m6 0h1m3 0h1m5 0h2m4 0h1m1 0h1m2 0h1m2 0h1m1 0h1m3 0h2m4 0h1m5 0h1m3 0h1m1 0h1m10 0h1m4 0h1m5 0h2m1 0h1m7 0h1m2 0h2m2 0h3m3 0h1m5 0h2m1 0h1m5 0h1m19 0h1m3 0h1m2 0h1m1 0h1m2 0h1m4 0h1m1 0h1m7 0h1m3 0h4m5 0h1m9 0h1m6 0h2m1 0h1m4 0h1m5 0h1m2 0h1m5 0h1m3 0h1m3 0h1m1 0h1m6 0h1m3 0h1M107 232.5h1m3 0h1m2 0h2m1 0h1m2 0h1m1 0h3m3 0h2m3 0h1m2 0h1m1 0h1m3 0h1m6 0h1m2 0h1m12 0h1m9 0h4m7 0h2m1 0h1m3 0h1m5 0h1m1 0h2m3 0h1m6 0h1m9 0h1m5 0h1m9 0h1m1 0h1m2 0h1m1 0h1m3 0h2m6 0h2m5 0h2m5 0h1m2 0h1m2 0h2m5 0h1m2 0h2m3 0h1m1 0h4m2 0h1m4 0h1m9 0h1m6 0h1m8 0h1m4 0h1m1 0h1m3 0h1m1 0h1m2 0h1m3 0h1m2 0h1m2 0h1m3 0h2m4 0h1m5 0h1m2 0h1m12 0h1m2 0h2m4 0h3m2 0h1m4 0h4m1 0h1m3 0h1m6 0h3m3 0h1m7 0h1m8 0h1m2 0h2m1 0h1m1 0h1m18 0h2m1 0h2m3 0h2m7 0h2m3 0h1m3 0h1m1 0h1m1 0h1m4 0h1m4 0h2m2 0h1m1 0h1m2 0h1m1 0h1m4 0h1m9 0h1m6 0h1M107 233.5h1m3 0h1m5 0h1m11 0h3m5 0h1m10 0h1m1 0h2m14 0h1m1 0h1m3 0h1m5 0h1m3 0h1m1 0h2m1 0h1m8 0h1m16 0h1m10 0h1m3 0h1m3 0h1m3 0h1m7 0h2m1 0h3m3 0h3m3 0h1m1 0h2m2 0h4m1 0h1m2 0h1m4 0h3m1 0h2m1 0h1m2 0h1m1 0h1m1 0h1m4 0h1m10 0h1m16 0h1m6 0h1m3 0h1m5 0h1m3 0h1m3 0h2m2 0h3m6 0h3m7 0h1m1 0h2m15 0h1m1 0h2m2 0h1m2 0h1m2 0h1m2 0h1m1 0h2m1 0h1m9 0h1m15 0h1m10 0h1m3 0h1m3 0h1m3 0h1m2 0h1m5 0h2m1 0h1m4 0h1m1 0h2m2 0h1m1 0h1m1 0h1m2 0h4m1 0h3m2 0h1m1 0h3m2 0h2m1 0h1m1 0h1m9 0h1m10 0h1m16 0h1M105 234.5h1m3 0h1m4 0h1m7 0h1m3 0h1m1 0h2m8 0h1m11 0h1m2 0h1m4 0h1m4 0h1m1 0h1m2 0h1m3 0h1m2 0h3m1 0h1m4 0h1m11 0h2m25 0h2m10 0h1m2 0h2m5 0h1m2 0h2m1 0h1m1 0h1m6 0h1m3 0h1m2 0h1m2 0h2m3 0h1m3 0h1m6 0h1m2 0h1m5 0h2m2 0h1m3 0h1m1 0h1m21 0h1m2 0h1m3 0h1m2 0h1m1 0h1m5 0h3m3 0h1m2 0h2m8 0h1m11 0h1m1 0h1m4 0h1m5 0h2m3 0h1m2 0h1m1 0h1m5 0h1m42 0h2m5 0h2m3 0h1m6 0h1m2 0h1m5 0h1m2 0h1m3 0h3m4 0h1m2 0h1m1 0h1m2 0h1m1 0h1m4 0h1m4 0h3m3 0h1m4 0h1m1 0h2m3 0h1m2 0h1m21 0h1M103 235.5h1m3 0h2m2 0h1m5 0h2m5 0h1m1 0h2m2 0h4m2 0h1m1 0h2m1 0h2m2 0h1m1 0h1m4 0h1m1 0h1m3 0h4m7 0h1m1 0h1m1 0h1m2 0h2m3 0h1m5 0h2m31 0h1m4 0h1m1 0h2m2 0h1m1 0h1m1 0h1m8 0h1m4 0h1m6 0h3m2 0h2m1 0h1m1 0h1m3 0h1m2 0h1m2 0h1m1 0h1m4 0h1m1 0h1m1 0h1m9 0h1m3 0h2m3 0h1m1 0h2m5 0h1m8 0h1m8 0h2m1 0h2m3 0h4m5 0h2m1 0h1m1 0h4m3 0h1m1 0h2m4 0h1m2 0h1m4 0h2m3 0h1m2 0h1m8 0h2m1 0h1m2 0h1m1 0h2m2 0h1m2 0h2m2 0h1m31 0h1m3 0h1m2 0h2m2 0h1m1 0h1m1 0h1m4 0h2m1 0h1m4 0h1m6 0h1m1 0h2m1 0h3m1 0h4m2 0h1m1 0h5m3 0h1m4 0h2m4 0h1m8 0h2m3 0h1m1 0h1m1 0h1m4 0h1m8 0h1m3 0h1M110 236.5h3m1 0h2m5 0h1m1 0h2m1 0h1m10 0h1m12 0h2m5 0h1m2 0h1m11 0h3m1 0h2m6 0h1m2 0h1m6 0h1m4 0h1m3 0h1m5 0h1m18 0h1m3 0h1m1 0h1m2 0h1m3 0h2m4 0h2m6 0h1m6 0h2m5 0h1m3 0h1m2 0h1m1 0h1m4 0h4m6 0h1m6 0h1m4 0h1m10 0h1m9 0h1m4 0h1m1 0h1m1 0h1m4 0h1m1 0h1m5 0h2m2 0h1m10 0h1m11 0h2m6 0h4m10 0h3m2 0h4m1 0h3m2 0h1m3 0h2m1 0h1m4 0h1m4 0h1m4 0h1m19 0h2m1 0h1m1 0h1m3 0h1m8 0h3m1 0h1m1 0h1m2 0h1m1 0h1m2 0h1m1 0h2m3 0h1m1 0h1m2 0h1m1 0h1m2 0h1m4 0h6m1 0h1m2 0h1m7 0h1m3 0h1m11 0h1m8 0h1M105 237.5h2m1 0h2m3 0h1m1 0h4m7 0h1m7 0h2m3 0h1m1 0h1m4 0h2m2 0h2m1 0h2m1 0h1m7 0h1m18 0h3m4 0h1m1 0h1m4 0h1m2 0h2m10 0h1m2 0h1m5 0h1m5 0h1m1 0h4m9 0h1m4 0h1m1 0h1m5 0h1m2 0h1m3 0h2m1 0h1m3 0h1m4 0h1m4 0h3m2 0h1m2 0h2m1 0h2m1 0h2m6 0h1m1 0h1m20 0h1m1 0h2m2 0h2m2 0h1m4 0h2m3 0h1m7 0h1m6 0h1m1 0h1m3 0h1m1 0h1m4 0h2m4 0h1m1 0h1m1 0h1m6 0h1m20 0h1m4 0h1m1 0h1m4 0h1m2 0h1m1 0h1m10 0h1m1 0h1m5 0h1m6 0h1m1 0h1m2 0h1m2 0h1m6 0h1m3 0h2m8 0h2m3 0h1m1 0h1m10 0h1m4 0h2m8 0h2m1 0h3m6 0h1m1 0h3m18 0h3M107 238.5h1m2 0h2m1 0h1m2 0h1m2 0h1m4 0h1m1 0h1m1 0h1m4 0h1m2 0h1m2 0h1m5 0h1m13 0h1m5 0h1m2 0h1m2 0h2m1 0h1m1 0h1m3 0h1m5 0h1m7 0h1m2 0h1m1 0h1m10 0h1m7 0h2m5 0h1m3 0h2m4 0h1m2 0h2m3 0h2m5 0h2m1 0h1m6 0h1m2 0h2m6 0h1m1 0h4m2 0h2m2 0h2m2 0h1m2 0h1m5 0h3m2 0h1m6 0h1m1 0h1m13 0h2m6 0h2m3 0h3m4 0h1m4 0h1m2 0h1m1 0h1m4 0h1m1 0h1m2 0h1m6 0h1m4 0h2m7 0h1m5 0h1m1 0h1m2 0h3m7 0h3m3 0h1m6 0h1m3 0h1m1 0h1m9 0h1m7 0h1m1 0h1m9 0h2m4 0h1m1 0h1m1 0h1m1 0h1m8 0h2m3 0h1m4 0h1m1 0h2m6 0h1m3 0h2m2 0h1m2 0h1m1 0h2m1 0h1m2 0h1m1 0h2m1 0h3m2 0h1m1 0h1m5 0h1m2 0h1m12 0h2M107 239.5h2m1 0h1m1 0h2m1 0h1m1 0h1m1 0h1m2 0h1m5 0h1m1 0h1m7 0h2m12 0h1m2 0h1m2 0h1m4 0h1m3 0h1m8 0h1m3 0h2m1 0h1m1 0h1m1 0h2m12 0h1m10 0h1m4 0h1m5 0h1m3 0h1m4 0h1m2 0h1m1 0h4m3 0h1m3 0h1m5 0h2m3 0h1m1 0h1m1 0h2m1 0h2m1 0h4m1 0h2m3 0h1m1 0h2m1 0h1m1 0h4m1 0h1m1 0h1m3 0h4m2 0h2m6 0h1m23 0h1m3 0h3m1 0h2m3 0h1m5 0h1m1 0h1m6 0h2m12 0h1m3 0h1m1 0h1m4 0h1m4 0h1m7 0h1m3 0h2m1 0h1m1 0h1m1 0h2m1 0h1m1 0h2m8 0h1m10 0h1m4 0h1m5 0h1m2 0h3m2 0h1m3 0h1m2 0h5m1 0h1m1 0h2m1 0h1m9 0h2m3 0h1m5 0h3m3 0h3m2 0h2m1 0h1m1 0h1m2 0h1m2 0h1m3 0h1m2 0h1m10 0h1M105 240.5h1m2 0h1m6 0h2m1 0h1m1 0h1m7 0h1m5 0h1m2 0h1m3 0h1m2 0h1m5 0h1m8 0h1m2 0h1m1 0h1m2 0h4m3 0h2m3 0h3m2 0h4m3 0h3m4 0h1m3 0h2m2 0h1m5 0h2m8 0h2m6 0h1m8 0h1m2 0h1m3 0h1m3 0h2m1 0h1m5 0h1m3 0h1m2 0h1m1 0h1m3 0h1m4 0h2m6 0h1m10 0h1m1 0h4m7 0h1m6 0h1m4 0h1m5 0h2m2 0h3m1 0h1m5 0h2m1 0h1m1 0h5m3 0h1m4 0h1m3 0h1m3 0h1m2 0h1m5 0h1m8 0h1m1 0h1m1 0h1m2 0h2m3 0h1m4 0h2m1 0h3m1 0h2m1 0h1m6 0h1m4 0h1m2 0h2m2 0h1m15 0h2m6 0h1m5 0h1m2 0h1m6 0h1m2 0h1m1 0h2m1 0h1m4 0h1m1 0h1m1 0h1m2 0h1m1 0h2m3 0h1m3 0h1m3 0h1m4 0h1m4 0h1m1 0h1m1 0h1m1 0h2m1 0h1m8 0h1m6 0h1m4 0h1m5 0h2M103 241.5h1m1 0h1m9 0h1m4 0h1m2 0h2m1 0h1m7 0h1m25 0h1m4 0h1m1 0h2m8 0h1m1 0h1m1 0h2m1 0h3m1 0h1m8 0h1m2 0h1m12 0h1m6 0h1m4 0h1m1 0h1m1 0h1m4 0h1m3 0h1m1 0h2m9 0h6m2 0h1m3 0h2m1 0h1m2 0h1m4 0h2m3 0h2m10 0h1m1 0h2m3 0h1m2 0h2m2 0h1m16 0h2m1 0h1m2 0h1m2 0h1m3 0h1m4 0h2m3 0h2m1 0h2m1 0h1m4 0h2m1 0h1m26 0h1m4 0h1m1 0h3m6 0h1m2 0h2m1 0h4m10 0h1m4 0h1m2 0h2m7 0h1m6 0h1m3 0h1m1 0h1m2 0h1m1 0h2m1 0h4m1 0h1m5 0h1m6 0h1m1 0h1m3 0h1m5 0h1m1 0h2m3 0h1m1 0h2m2 0h2m2 0h2m3 0h1m1 0h3m1 0h2m4 0h1m2 0h2m1 0h1m19 0h1M105 242.5h1m1 0h2m5 0h3m3 0h2m4 0h1m2 0h1m3 0h1m8 0h1m8 0h1m2 0h1m1 0h1m4 0h1m6 0h1m4 0h1m6 0h1m1 0h1m3 0h1m2 0h1m3 0h1m1 0h1m5 0h1m6 0h2m7 0h1m2 0h2m2 0h1m1 0h2m8 0h1m2 0h1m1 0h2m1 0h1m5 0h2m3 0h2m5 0h1m1 0h1m2 0h1m5 0h1m5 0h1m7 0h2m3 0h2m2 0h1m2 0h1m2 0h1m3 0h1m6 0h2m1 0h1m2 0h1m3 0h1m7 0h2m1 0h1m4 0h1m1 0h1m3 0h2m4 0h1m3 0h1m2 0h1m8 0h1m8 0h1m2 0h1m2 0h1m4 0h1m5 0h1m4 0h1m5 0h2m6 0h1m4 0h1m1 0h1m1 0h1m5 0h1m6 0h2m7 0h1m1 0h2m5 0h1m1 0h1m1 0h1m1 0h1m2 0h1m2 0h1m6 0h1m2 0h1m2 0h1m2 0h1m2 0h1m3 0h1m1 0h1m2 0h1m6 0h1m5 0h1m6 0h1m1 0h1m2 0h1m1 0h3m2 0h1m3 0h1m2 0h1m5 0h2m1 0h1m1 0h1m2 0h1m3 0h1M105 243.5h1m4 0h1m2 0h2m2 0h1m3 0h3m45 0h1m1 0h1m12 0h2m4 0h1m2 0h1m4 0h1m2 0h1m20 0h1m1 0h2m4 0h2m4 0h1m1 0h1m7 0h1m2 0h1m1 0h1m5 0h1m2 0h2m4 0h1m1 0h1m3 0h1m8 0h1m2 0h7m1 0h1m1 0h1m1 0h3m3 0h1m1 0h1m10 0h1m1 0h1m12 0h1m1 0h2m1 0h1m3 0h1m2 0h1m4 0h3m44 0h1m2 0h1m12 0h2m6 0h1m5 0h1m1 0h1m21 0h3m7 0h2m1 0h1m2 0h1m1 0h2m4 0h1m1 0h1m4 0h1m3 0h1m8 0h1m1 0h1m3 0h3m5 0h4m2 0h1m3 0h1m1 0h1m1 0h1m1 0h1m4 0h1m2 0h1m10 0h2M104 244.5h1m2 0h1m3 0h1m1 0h2m1 0h2m1 0h1m1 0h1m4 0h2m2 0h1m3 0h1m24 0h1m7 0h1m4 0h3m3 0h1m1 0h1m1 0h1m2 0h2m2 0h2m3 0h1m3 0h1m2 0h1m9 0h1m7 0h2m3 0h2m8 0h3m4 0h3m1 0h1m2 0h5m1 0h1m3 0h1m1 0h2m10 0h3m1 0h1m4 0h2m2 0h1m1 0h1m1 0h3m3 0h4m3 0h2m14 0h1m5 0h1m1 0h2m1 0h1m3 0h1m1 0h1m2 0h2m4 0h2m1 0h1m3 0h2m2 0h1m3 0h1m24 0h1m8 0h1m3 0h3m4 0h5m1 0h3m1 0h1m4 0h1m4 0h1m1 0h3m7 0h1m7 0h2m3 0h2m4 0h2m3 0h1m5 0h2m1 0h1m2 0h4m2 0h1m1 0h1m1 0h1m3 0h1m11 0h3m1 0h1m4 0h2m1 0h3m4 0h1m4 0h2m5 0h1m14 0h1m4 0h1m2 0h2M103 245.5h1m1 0h2m2 0h2m2 0h1m2 0h1m1 0h2m4 0h1m2 0h2m21 0h2m22 0h2m8 0h1m7 0h2m3 0h1m5 0h1m9 0h1m9 0h1m1 0h1m1 0h1m1 0h1m2 0h1m1 0h1m2 0h1m2 0h1m2 0h2m4 0h1m7 0h1m1 0h2m15 0h1m7 0h3m1 0h1m1 0h1m11 0h1m2 0h1m1 0h1m5 0h2m2 0h1m5 0h2m3 0h1m1 0h1m1 0h1m1 0h1m1 0h1m2 0h1m4 0h2m3 0h1m2 0h2m21 0h2m22 0h2m16 0h1m1 0h1m2 0h1m6 0h1m9 0h1m9 0h1m1 0h1m1 0h2m2 0h1m1 0h1m3 0h1m2 0h1m1 0h2m3 0h1m2 0h1m6 0h2m1 0h1m6 0h2m5 0h1m8 0h2m1 0h1m2 0h2m11 0h1m1 0h1m1 0h1m10 0h1M106 246.5h1m1 0h1m3 0h2m1 0h1m1 0h3m7 0h1m7 0h1m14 0h1m7 0h2m1 0h1m3 0h1m4 0h1m1 0h2m4 0h1m2 0h2m4 0h2m2 0h1m3 0h3m2 0h2m4 0h2m4 0h1m6 0h1m1 0h1m4 0h1m3 0h1m1 0h1m1 0h1m2 0h1m8 0h1m7 0h2m12 0h2m8 0h1m4 0h1m1 0h1m2 0h1m2 0h2m3 0h1m1 0h3m1 0h1m1 0h1m1 0h1m1 0h1m4 0h1m9 0h1m4 0h1m3 0h1m1 0h4m1 0h1m1 0h2m1 0h2m1 0h2m3 0h1m8 0h1m10 0h2m1 0h1m7 0h2m1 0h1m3 0h1m4 0h1m2 0h2m1 0h3m2 0h1m4 0h1m2 0h1m1 0h1m6 0h1m1 0h2m10 0h1m7 0h2m5 0h1m2 0h1m2 0h1m1 0h2m9 0h1m1 0h2m3 0h4m13 0h1m7 0h1m3 0h1m1 0h1m2 0h1m3 0h2m3 0h1m2 0h4m1 0h1m2 0h1m1 0h1m4 0h3m7 0h1m3 0h1M107 247.5h2m1 0h3m1 0h1m2 0h1m1 0h1m7 0h1m2 0h1m14 0h1m9 0h1m2 0h1m9 0h2m5 0h2m1 0h2m3 0h1m3 0h2m2 0h1m2 0h1m1 0h1m3 0h3m16 0h1m4 0h3m1 0h2m4 0h1m1 0h1m9 0h1m1 0h1m5 0h2m5 0h1m2 0h2m1 0h1m2 0h2m1 0h1m4 0h1m1 0h1m1 0h1m4 0h2m1 0h1m1 0h3m7 0h1m5 0h1m1 0h2m2 0h1m3 0h1m2 0h1m6 0h3m1 0h2m1 0h1m1 0h2m4 0h1m1 0h1m2 0h2m3 0h1m2 0h1m14 0h1m9 0h1m1 0h1m10 0h4m2 0h1m1 0h2m1 0h3m1 0h1m3 0h2m5 0h1m4 0h2m1 0h1m15 0h1m6 0h1m2 0h2m4 0h2m8 0h4m6 0h1m5 0h1m2 0h1m1 0h5m1 0h2m4 0h1m1 0h1m2 0h1m1 0h2m1 0h2m3 0h1m1 0h3m5 0h1m4 0h1m6 0h1m3 0h1m1 0h1m4 0h2M103 248.5h1m3 0h1m4 0h2m3 0h1m6 0h1m35 0h1m20 0h1m1 0h2m1 0h3m1 0h3m6 0h1m3 0h2m7 0h1m1 0h1m2 0h1m2 0h1m3 0h2m11 0h1m1 0h1m5 0h1m1 0h1m6 0h1m1 0h1m2 0h1m3 0h2m2 0h1m4 0h1m2 0h1m1 0h1m1 0h1m8 0h1m2 0h3m4 0h1m3 0h1m1 0h1m8 0h1m3 0h1m1 0h1m6 0h1m3 0h1m1 0h1m5 0h2m2 0h1m7 0h1m22 0h2m11 0h1m19 0h2m2 0h8m7 0h1m3 0h2m2 0h2m2 0h1m1 0h1m3 0h1m1 0h1m3 0h1m10 0h2m2 0h1m2 0h1m3 0h1m1 0h1m8 0h1m1 0h1m3 0h1m1 0h1m6 0h1m3 0h2m2 0h1m7 0h1m2 0h1m1 0h2m3 0h1m3 0h2m10 0h1m2 0h1m1 0h1m4 0h2m1 0h1M103 249.5h1m3 0h1m2 0h1m1 0h1m1 0h2m8 0h1m2 0h1m17 0h1m12 0h1m12 0h3m4 0h1m3 0h1m6 0h2m2 0h1m2 0h1m9 0h1m10 0h1m1 0h1m9 0h1m4 0h1m1 0h1m1 0h1m9 0h1m8 0h2m7 0h2m2 0h1m3 0h1m10 0h4m1 0h1m2 0h3m3 0h1m1 0h2m1 0h3m13 0h1m5 0h1m1 0h1m3 0h1m1 0h2m1 0h1m4 0h1m6 0h1m2 0h1m17 0h1m13 0h1m11 0h2m1 0h1m3 0h1m3 0h1m11 0h1m1 0h1m9 0h1m9 0h1m2 0h2m11 0h1m4 0h1m1 0h1m13 0h2m2 0h1m1 0h1m6 0h1m1 0h1m2 0h1m2 0h1m11 0h2m3 0h1m4 0h1m2 0h1m1 0h2m3 0h1m6 0h2m5 0h1m2 0h2m1 0h1M104 250.5h2m1 0h1m2 0h2m13 0h1m18 0h1m1 0h1m10 0h1m5 0h1m3 0h1m9 0h1m1 0h1m1 0h1m7 0h2m2 0h1m6 0h1m1 0h1m16 0h1m4 0h1m4 0h1m3 0h1m2 0h2m1 0h1m4 0h3m3 0h1m2 0h1m2 0h4m4 0h1m2 0h3m5 0h1m6 0h1m2 0h1m6 0h2m1 0h2m2 0h1m3 0h2m1 0h1m6 0h1m3 0h3m2 0h1m10 0h5m4 0h2m3 0h2m2 0h1m18 0h1m1 0h1m10 0h1m5 0h1m2 0h1m10 0h2m2 0h2m1 0h1m3 0h1m1 0h2m1 0h1m3 0h1m2 0h1m1 0h1m12 0h2m2 0h1m3 0h1m5 0h1m2 0h1m6 0h3m1 0h1m1 0h2m3 0h1m2 0h1m1 0h4m5 0h1m1 0h1m8 0h1m1 0h2m3 0h1m2 0h1m6 0h1m3 0h1m1 0h1m4 0h3m1 0h2m3 0h1m6 0h1m1 0h1M103 251.5h2m3 0h4m1 0h1m2 0h4m1 0h1m3 0h1m4 0h1m19 0h1m18 0h1m1 0h1m2 0h2m14 0h1m2 0h1m1 0h3m1 0h1m3 0h1m7 0h2m1 0h1m8 0h2m3 0h3m1 0h1m2 0h1m13 0h1m1 0h1m10 0h1m1 0h1m6 0h1m4 0h4m10 0h1m5 0h1m5 0h2m6 0h1m1 0h2m10 0h1m1 0h1m8 0h2m1 0h1m1 0h1m3 0h3m3 0h1m5 0h1m19 0h1m18 0h1m1 0h1m2 0h2m8 0h2m2 0h1m2 0h3m3 0h1m1 0h1m2 0h1m7 0h2m2 0h1m6 0h2m11 0h1m1 0h1m2 0h2m7 0h1m2 0h1m9 0h1m1 0h1m1 0h2m3 0h1m4 0h1m2 0h1m13 0h2m1 0h1m4 0h2m4 0h1m4 0h2m10 0h4M114 252.5h2m3 0h1m28 0h1m9 0h1m7 0h1m7 0h1m3 0h1m3 0h1m1 0h2m1 0h2m1 0h2m1 0h2m1 0h1m14 0h1m6 0h1m10 0h2m8 0h1m1 0h1m1 0h2m1 0h1m5 0h1m8 0h1m1 0h1m2 0h1m8 0h1m6 0h2m13 0h2m5 0h1m1 0h1m3 0h2m2 0h2m2 0h1m18 0h2m6 0h1m27 0h1m9 0h1m7 0h1m8 0h1m7 0h1m1 0h1m1 0h1m1 0h1m1 0h1m1 0h1m2 0h1m9 0h2m4 0h1m6 0h1m4 0h2m1 0h1m2 0h1m2 0h1m2 0h3m2 0h1m1 0h1m1 0h2m5 0h1m9 0h2m3 0h3m6 0h1m5 0h1m1 0h1m11 0h2m3 0h1m3 0h1m1 0h1m2 0h1m1 0h1M103 253.5h1m1 0h1m5 0h3m4 0h1m7 0h2m21 0h1m4 0h2m2 0h1m3 0h2m9 0h1m2 0h1m3 0h2m8 0h1m3 0h3m2 0h1m4 0h1m4 0h1m1 0h1m7 0h1m3 0h1m1 0h4m1 0h2m1 0h3m3 0h2m2 0h1m12 0h1m6 0h1m2 0h1m4 0h1m6 0h1m15 0h1m1 0h1m3 0h1m1 0h1m1 0h1m5 0h2m12 0h1m3 0h1m2 0h1m1 0h2m3 0h2m3 0h1m7 0h2m21 0h1m4 0h1m1 0h1m1 0h1m3 0h2m9 0h1m2 0h1m4 0h2m1 0h2m3 0h2m4 0h3m2 0h1m1 0h1m1 0h1m5 0h1m1 0h1m7 0h1m2 0h1m1 0h4m1 0h1m1 0h3m1 0h1m2 0h1m3 0h1m13 0h1m5 0h1m2 0h1m1 0h2m1 0h1m6 0h1m1 0h2m15 0h1m3 0h1m1 0h1m6 0h2m2 0h2m9 0h1M103 254.5h2m1 0h1m3 0h1m5 0h1m4 0h1m2 0h1m35 0h1m6 0h1m3 0h1m12 0h1m4 0h1m1 0h2m3 0h4m2 0h1m7 0h1m1 0h1m2 0h1m2 0h2m2 0h1m1 0h2m3 0h1m1 0h1m3 0h2m1 0h1m3 0h1m6 0h3m14 0h1m4 0h1m7 0h2m4 0h2m2 0h1m2 0h4m1 0h2m1 0h1m2 0h1m11 0h1m10 0h1m1 0h2m1 0h1m3 0h1m3 0h3m4 0h1m3 0h1m35 0h1m6 0h1m3 0h1m12 0h1m3 0h2m2 0h1m3 0h1m1 0h1m3 0h1m1 0h1m5 0h1m1 0h1m1 0h1m2 0h2m2 0h1m1 0h2m1 0h2m1 0h2m4 0h5m1 0h1m6 0h1m2 0h2m12 0h1m4 0h1m7 0h2m9 0h1m1 0h1m1 0h4m1 0h3m4 0h1m3 0h2m3 0h1m1 0h2m7 0h1M104 255.5h3m3 0h1m3 0h1m1 0h1m21 0h1m9 0h1m16 0h1m2 0h2m3 0h1m2 0h1m6 0h1m1 0h2m2 0h1m5 0h2m3 0h1m1 0h2m8 0h1m8 0h1m3 0h1m1 0h3m1 0h1m4 0h2m2 0h2m18 0h2m1 0h1m2 0h3m4 0h1m3 0h1m2 0h2m5 0h1m5 0h4m2 0h1m2 0h1m2 0h1m3 0h1m11 0h1m2 0h2m3 0h2m1 0h1m2 0h1m2 0h3m1 0h1m20 0h1m10 0h1m15 0h1m7 0h1m3 0h1m5 0h1m11 0h1m5 0h3m2 0h2m5 0h1m2 0h2m2 0h3m2 0h1m3 0h1m1 0h1m4 0h2m2 0h2m2 0h2m14 0h2m1 0h1m5 0h1m3 0h1m4 0h1m2 0h2m4 0h1m7 0h2m3 0h1m1 0h1m3 0h1m3 0h1m11 0h1m1 0h1m1 0h1M104 256.5h2m4 0h1m1 0h1m2 0h1m1 0h2m3 0h1m1 0h1m2 0h1m16 0h2m6 0h1m5 0h1m10 0h1m2 0h1m10 0h1m1 0h1m4 0h1m3 0h1m4 0h1m1 0h2m1 0h2m3 0h1m8 0h2m2 0h1m2 0h3m1 0h1m1 0h3m4 0h2m1 0h1m2 0h1m1 0h1m8 0h1m1 0h1m6 0h1m4 0h1m7 0h1m2 0h2m4 0h1m2 0h1m4 0h1m2 0h1m2 0h1m2 0h1m1 0h1m5 0h1m3 0h2m12 0h2m1 0h2m1 0h2m3 0h1m1 0h2m4 0h2m2 0h1m1 0h2m21 0h1m6 0h1m9 0h1m2 0h1m10 0h1m2 0h1m1 0h2m2 0h1m1 0h1m4 0h1m1 0h1m1 0h1m5 0h1m1 0h2m5 0h2m5 0h1m1 0h1m1 0h1m4 0h1m4 0h2m1 0h1m2 0h1m1 0h1m9 0h1m6 0h1m5 0h1m6 0h1m2 0h1m1 0h1m4 0h1m2 0h1m4 0h1m2 0h1m4 0h1m1 0h1m2 0h3m4 0h2M103 257.5h1m1 0h2m6 0h1m1 0h3m7 0h1m4 0h1m37 0h1m9 0h1m5 0h1m2 0h1m5 0h1m4 0h2m6 0h1m1 0h1m2 0h1m1 0h2m2 0h1m5 0h1m1 0h2m2 0h1m2 0h2m4 0h1m1 0h1m23 0h1m2 0h1m1 0h1m19 0h1m2 0h1m4 0h5m1 0h2m1 0h1m1 0h2m3 0h1m1 0h2m3 0h1m1 0h1m2 0h1m2 0h1m1 0h1m1 0h1m1 0h2m3 0h1m2 0h1m7 0h1m4 0h1m38 0h1m8 0h1m5 0h1m3 0h1m1 0h1m3 0h1m11 0h1m2 0h1m1 0h1m2 0h2m1 0h1m6 0h1m4 0h1m3 0h2m3 0h1m2 0h1m23 0h1m1 0h1m1 0h1m20 0h1m1 0h1m5 0h1m2 0h1m1 0h3m1 0h3m3 0h1m1 0h1m1 0h1m2 0h1m2 0h1m2 0h1M105 258.5h1m4 0h6m1 0h2m28 0h1m8 0h1m9 0h1m9 0h1m8 0h1m4 0h2m4 0h1m1 0h2m2 0h2m1 0h1m3 0h2m1 0h1m3 0h1m6 0h1m6 0h3m1 0h1m6 0h2m2 0h1m4 0h1m2 0h2m1 0h1m1 0h1m15 0h1m6 0h1m9 0h1m4 0h2m2 0h2m1 0h1m2 0h2m2 0h1m1 0h2m6 0h1m6 0h1m2 0h1m4 0h1m2 0h3m1 0h1m1 0h1m27 0h1m8 0h1m9 0h1m9 0h1m5 0h2m2 0h1m5 0h2m5 0h1m3 0h2m1 0h1m2 0h1m7 0h1m6 0h1m2 0h1m2 0h2m1 0h2m1 0h1m4 0h2m3 0h1m3 0h1m6 0h2m16 0h1m6 0h1m8 0h1m6 0h1m1 0h2m1 0h1m1 0h1m6 0h1m1 0h1m5 0h1m6 0h2M104 259.5h1m5 0h3m1 0h1m2 0h1m1 0h1m7 0h1m34 0h1m5 0h1m6 0h1m7 0h2m2 0h2m6 0h1m1 0h1m1 0h2m1 0h1m6 0h1m2 0h1m2 0h1m11 0h1m1 0h1m2 0h2m4 0h1m3 0h1m1 0h1m6 0h1m1 0h1m32 0h1m1 0h2m15 0h2m10 0h1m1 0h1m1 0h1m1 0h1m3 0h1m5 0h1m2 0h2m2 0h1m1 0h1m1 0h1m8 0h1m33 0h1m5 0h1m6 0h1m10 0h1m1 0h1m8 0h1m2 0h3m1 0h2m3 0h1m3 0h1m1 0h1m5 0h1m1 0h1m2 0h1m1 0h2m3 0h3m1 0h3m2 0h1m1 0h1m6 0h1m1 0h1m32 0h1m2 0h2m7 0h2m5 0h1m12 0h2m2 0h1m4 0h1M103 260.5h1m1 0h3m2 0h1m1 0h1m3 0h1m2 0h1m5 0h1m50 0h2m2 0h1m3 0h2m4 0h1m3 0h2m1 0h1m1 0h1m1 0h1m5 0h1m3 0h1m6 0h2m1 0h3m1 0h2m1 0h1m2 0h1m8 0h1m1 0h1m2 0h2m4 0h2m4 0h1m8 0h1m9 0h1m3 0h2m6 0h3m7 0h3m1 0h1m1 0h1m3 0h1m8 0h2m7 0h1m1 0h2m4 0h1m6 0h1m3 0h1m5 0h1m49 0h1m1 0h1m2 0h1m7 0h2m1 0h1m1 0h2m1 0h1m4 0h1m5 0h4m1 0h1m1 0h1m3 0h2m2 0h1m2 0h1m1 0h1m2 0h3m6 0h1m1 0h4m1 0h1m9 0h1m8 0h1m10 0h1m2 0h2m7 0h1m10 0h1m1 0h2m2 0h3m2 0h2m13 0h1m1 0h1M104 261.5h1m1 0h1m1 0h2m1 0h2m1 0h1m2 0h1m17 0h1m29 0h1m11 0h1m4 0h1m1 0h2m5 0h1m3 0h4m1 0h1m1 0h1m2 0h1m2 0h1m2 0h1m2 0h1m1 0h2m3 0h2m1 0h1m2 0h1m8 0h1m2 0h1m5 0h1m2 0h1m1 0h1m17 0h1m3 0h3m2 0h1m2 0h1m2 0h1m2 0h1m1 0h1m5 0h1m2 0h2m1 0h4m2 0h1m5 0h2m1 0h1m2 0h1m3 0h3m2 0h1m1 0h1m1 0h1m1 0h2m1 0h2m2 0h1m1 0h1m17 0h1m29 0h1m11 0h1m3 0h1m2 0h1m1 0h1m5 0h1m3 0h1m2 0h8m1 0h1m2 0h1m2 0h1m1 0h2m3 0h2m1 0h1m3 0h1m7 0h1m2 0h1m6 0h1m1 0h1m1 0h1m18 0h1m3 0h3m1 0h1m3 0h1m1 0h1m3 0h2m6 0h1m4 0h1m1 0h1m3 0h1m6 0h3m3 0h1m3 0h1M105 262.5h2m3 0h1m13 0h2m1 0h1m12 0h1m2 0h1m16 0h1m5 0h2m2 0h1m6 0h1m5 0h1m4 0h2m4 0h2m1 0h1m1 0h1m10 0h1m3 0h2m3 0h3m1 0h3m1 0h2m1 0h3m5 0h1m6 0h1m3 0h1m3 0h2m5 0h1m15 0h1m13 0h1m6 0h1m2 0h1m13 0h1m5 0h1m2 0h1m8 0h1m2 0h2m15 0h1m13 0h1m1 0h1m17 0h1m5 0h2m1 0h1m6 0h1m5 0h1m4 0h1m1 0h1m5 0h1m2 0h1m6 0h2m2 0h2m2 0h1m1 0h1m2 0h2m1 0h1m2 0h1m5 0h1m6 0h1m4 0h2m1 0h1m3 0h1m10 0h1m15 0h1m13 0h1m6 0h1m2 0h1m1 0h2m10 0h1m2 0h1m1 0h1m2 0h1M103 263.5h1m1 0h1m2 0h2m2 0h1m2 0h2m3 0h1m14 0h1m7 0h1m3 0h1m10 0h1m6 0h2m12 0h1m4 0h1m3 0h1m6 0h1m8 0h1m7 0h1m1 0h2m1 0h2m6 0h1m8 0h2m11 0h1m2 0h1m1 0h3m2 0h1m6 0h1m10 0h1m10 0h2m1 0h2m2 0h1m1 0h1m2 0h2m1 0h1m2 0h1m1 0h1m1 0h1m4 0h1m6 0h1m3 0h1m2 0h3m7 0h2m6 0h1m15 0h1m7 0h1m2 0h1m10 0h1m7 0h2m12 0h1m4 0h2m1 0h1m4 0h3m8 0h1m8 0h4m2 0h3m1 0h3m3 0h1m2 0h1m3 0h1m11 0h1m2 0h1m1 0h3m1 0h1m6 0h1m10 0h1m10 0h1m1 0h1m5 0h2m3 0h2m1 0h1m2 0h1m1 0h1m1 0h1m3 0h1m5 0h3m2 0h1m3 0h1M105 264.5h1m1 0h8m1 0h2m4 0h1m36 0h1m1 0h1m6 0h1m8 0h2m4 0h1m2 0h2m4 0h3m2 0h2m4 0h1m2 0h3m6 0h1m1 0h2m1 0h2m1 0h1m4 0h1m4 0h1m5 0h1m5 0h1m3 0h2m1 0h1m3 0h1m7 0h1m3 0h1m9 0h1m1 0h2m6 0h1m7 0h2m1 0h1m1 0h1m5 0h1m2 0h1m1 0h1m6 0h1m9 0h1m3 0h2m3 0h1m1 0h3m5 0h1m35 0h1m2 0h1m5 0h1m14 0h1m6 0h3m10 0h1m1 0h4m4 0h1m2 0h3m2 0h3m2 0h1m1 0h1m1 0h1m1 0h2m5 0h1m5 0h1m3 0h2m2 0h1m2 0h1m8 0h1m2 0h1m9 0h1m1 0h2m14 0h2m1 0h1m4 0h1m3 0h1m1 0h1m9 0h1m1 0h1m4 0h2M110 265.5h1m1 0h1m7 0h1m12 0h1m3 0h1m37 0h1m2 0h1m2 0h1m2 0h1m2 0h1m1 0h1m6 0h1m3 0h1m3 0h1m4 0h2m1 0h1m7 0h3m1 0h4m1 0h2m3 0h1m3 0h1m18 0h1m29 0h2m5 0h2m1 0h1m2 0h1m7 0h1m3 0h1m1 0h2m12 0h1m4 0h3m2 0h1m6 0h1m12 0h1m3 0h1m37 0h1m2 0h1m3 0h1m2 0h1m1 0h1m1 0h1m7 0h1m2 0h1m3 0h1m7 0h1m8 0h3m2 0h1m1 0h1m2 0h1m3 0h1m3 0h1m18 0h1m28 0h2m5 0h1m1 0h2m3 0h1m5 0h3m4 0h3M103 266.5h1m5 0h1m6 0h1m6 0h1m25 0h1m2 0h1m26 0h2m5 0h1m4 0h2m1 0h3m8 0h2m1 0h1m1 0h1m1 0h1m2 0h3m1 0h2m1 0h1m3 0h2m1 0h1m2 0h2m2 0h1m56 0h3m1 0h1m6 0h2m2 0h2m4 0h1m1 0h1m1 0h1m1 0h3m1 0h1m4 0h1m3 0h1m7 0h1m6 0h1m25 0h1m2 0h1m34 0h1m3 0h1m3 0h2m2 0h1m1 0h1m3 0h5m1 0h2m2 0h2m1 0h1m5 0h1m2 0h3m2 0h1m1 0h1m2 0h1m55 0h1m1 0h2m1 0h1m4 0h2m1 0h1m7 0h1m1 0h1m1 0h1m1 0h1m1 0h2m1 0h1M104 267.5h1m1 0h1m1 0h1m2 0h2m21 0h1m17 0h1m26 0h1m10 0h3m1 0h3m1 0h5m10 0h1m4 0h1m6 0h4m7 0h1m3 0h1m5 0h1m2 0h2m17 0h1m3 0h1m19 0h1m4 0h2m2 0h1m1 0h1m2 0h1m9 0h1m5 0h1m1 0h3m4 0h1m5 0h2m20 0h1m17 0h1m25 0h1m11 0h1m4 0h1m2 0h1m2 0h1m1 0h1m2 0h1m2 0h1m4 0h1m4 0h1m6 0h1m1 0h1m8 0h2m1 0h1m5 0h1m2 0h2m18 0h1m2 0h1m15 0h2m3 0h1m7 0h1m1 0h1m3 0h1m8 0h1m3 0h2m1 0h1m1 0h3M103 268.5h1m8 0h1m6 0h1m2 0h1m9 0h1m3 0h1m3 0h1m3 0h1m23 0h1m3 0h2m6 0h1m3 0h1m2 0h1m2 0h1m1 0h3m3 0h1m4 0h2m7 0h2m6 0h2m1 0h3m1 0h1m12 0h1m18 0h1m3 0h1m1 0h1m3 0h1m20 0h2m2 0h1m3 0h1m2 0h1m1 0h2m6 0h1m1 0h3m3 0h3m2 0h1m1 0h1m1 0h3m6 0h1m7 0h1m2 0h1m9 0h1m2 0h1m3 0h1m3 0h1m23 0h1m3 0h1m1 0h1m6 0h1m3 0h1m2 0h1m1 0h1m1 0h2m1 0h1m3 0h1m3 0h2m2 0h1m4 0h1m2 0h1m7 0h3m1 0h1m5 0h2m6 0h1m17 0h1m3 0h1m1 0h1m3 0h1m20 0h1m1 0h1m1 0h1m3 0h1m8 0h3m6 0h1m2 0h3m3 0h1m1 0h1M107 269.5h1m6 0h1m29 0h1m19 0h1m6 0h1m12 0h1m2 0h1m1 0h1m4 0h2m1 0h2m1 0h1m1 0h3m1 0h2m2 0h6m1 0h1m2 0h1m4 0h1m3 0h1m1 0h1m3 0h3m1 0h1m11 0h1m5 0h1m1 0h1m17 0h1m1 0h1m9 0h1m3 0h1m3 0h1m8 0h3m4 0h1m6 0h1m6 0h1m5 0h1m1 0h2m2 0h1m30 0h1m19 0h1m5 0h1m12 0h1m2 0h4m2 0h1m2 0h1m1 0h1m8 0h1m3 0h2m2 0h1m6 0h1m6 0h1m1 0h3m1 0h1m4 0h1m11 0h1m3 0h1m3 0h1m2 0h1m13 0h1m2 0h1m9 0h1m3 0h1m3 0h2m6 0h1m1 0h1m5 0h1m4 0h3m2 0h5M104 270.5h2m4 0h1m26 0h1m46 0h1m3 0h1m2 0h2m4 0h1m3 0h2m3 0h1m2 0h2m8 0h1m2 0h1m8 0h1m2 0h2m1 0h1m1 0h1m8 0h1m7 0h1m2 0h1m22 0h2m1 0h1m6 0h1m5 0h1m1 0h1m5 0h1m2 0h3m4 0h1m4 0h1m2 0h1m1 0h2m2 0h1m5 0h1m24 0h3m46 0h1m3 0h1m2 0h2m5 0h3m1 0h2m1 0h1m7 0h1m5 0h1m2 0h1m8 0h1m1 0h2m2 0h1m1 0h1m8 0h1m6 0h1m3 0h1m3 0h2m16 0h1m1 0h2m6 0h1m6 0h1m1 0h1m4 0h1m2 0h1m7 0h1m4 0h2m1 0h1m2 0h1M105 271.5h1m13 0h1m55 0h1m7 0h1m1 0h1m8 0h3m4 0h1m8 0h1m5 0h1m6 0h1m1 0h2m8 0h1m5 0h1m12 0h1m6 0h1m16 0h1m2 0h1m7 0h2m4 0h1m1 0h1m3 0h3m2 0h1m2 0h2m1 0h1m3 0h2m8 0h1m4 0h1m3 0h2m8 0h1m54 0h1m7 0h1m2 0h1m4 0h2m1 0h2m1 0h1m4 0h1m7 0h1m5 0h1m2 0h1m3 0h1m1 0h2m3 0h1m3 0h3m4 0h1m12 0h1m6 0h1m16 0h1m3 0h1m6 0h2m4 0h1m2 0h1m2 0h3m2 0h1m6 0h1m3 0h2m2 0h2m2 0h2M108 272.5h1m5 0h2m3 0h1m56 0h1m15 0h1m2 0h3m1 0h3m5 0h2m1 0h1m2 0h3m8 0h1m1 0h1m1 0h1m1 0h1m7 0h1m1 0h1m33 0h1m11 0h1m13 0h1m1 0h1m2 0h2m2 0h1m1 0h1m1 0h3m1 0h1m3 0h1m2 0h1m2 0h1m5 0h1m11 0h3m54 0h1m13 0h1m3 0h1m1 0h2m2 0h1m8 0h1m2 0h2m10 0h1m1 0h1m1 0h2m7 0h1m35 0h1m12 0h1m13 0h1m1 0h1m5 0h1m1 0h1m1 0h2m1 0h2m2 0h1m4 0h1m2 0h1M104 273.5h1m3 0h1m3 0h2m5 0h1m1 0h1m3 0h1m4 0h1m5 0h1m15 0h1m14 0h1m14 0h1m7 0h2m10 0h2m3 0h1m4 0h2m11 0h1m4 0h1m2 0h1m1 0h1m6 0h1m6 0h1m14 0h1m9 0h1m2 0h1m2 0h1m9 0h1m2 0h1m3 0h1m1 0h1m5 0h1m2 0h1m1 0h3m5 0h2m2 0h3m2 0h1m1 0h2m2 0h3m9 0h1m1 0h1m2 0h1m5 0h1m5 0h1m15 0h1m14 0h1m14 0h1m7 0h2m2 0h1m1 0h1m4 0h2m1 0h2m4 0h1m1 0h1m3 0h1m7 0h1m4 0h1m2 0h1m1 0h1m7 0h1m5 0h1m14 0h1m10 0h1m1 0h1m2 0h1m10 0h1m2 0h1m2 0h1m1 0h1m1 0h2m3 0h1m1 0h1m4 0h1m4 0h2m3 0h3M105 274.5h1m3 0h1m1 0h1m1 0h2m7 0h1m4 0h2m43 0h1m9 0h1m1 0h1m10 0h2m1 0h2m3 0h2m2 0h3m2 0h1m5 0h3m1 0h2m3 0h1m1 0h1m1 0h1m4 0h1m9 0h1m8 0h1m20 0h1m2 0h1m3 0h1m12 0h1m1 0h1m4 0h2m5 0h1m1 0h1m1 0h2m1 0h1m3 0h4m5 0h1m3 0h1m2 0h3m8 0h1m3 0h2m43 0h1m10 0h2m8 0h3m1 0h2m1 0h1m2 0h1m1 0h1m1 0h2m2 0h2m3 0h1m2 0h3m1 0h2m3 0h2m1 0h1m5 0h1m9 0h1m7 0h1m20 0h1m2 0h1m3 0h1m10 0h3m1 0h1m7 0h2m2 0h1m1 0h2m3 0h1m4 0h4M108 275.5h1m1 0h1m2 0h2m3 0h1m47 0h1m4 0h1m5 0h1m10 0h1m9 0h1m1 0h3m2 0h2m1 0h1m4 0h1m2 0h1m4 0h1m6 0h1m4 0h1m8 0h1m41 0h1m19 0h2m1 0h1m2 0h1m1 0h1m2 0h1m1 0h1m2 0h2m5 0h2m4 0h1m2 0h1m1 0h1m1 0h1m2 0h1m47 0h1m4 0h1m6 0h1m10 0h1m5 0h1m2 0h2m2 0h1m2 0h1m2 0h1m7 0h1m1 0h2m2 0h1m5 0h1m5 0h1m8 0h1m40 0h1m19 0h2m2 0h1m2 0h2m2 0h1m6 0h1m1 0h1m1 0h1M105 276.5h1m3 0h2m17 0h1m2 0h1m2 0h1m21 0h1m3 0h1m19 0h1m3 0h1m9 0h2m2 0h1m4 0h1m4 0h2m1 0h1m1 0h1m6 0h1m1 0h1m1 0h1m2 0h1m11 0h1m13 0h1m1 0h1m5 0h1m6 0h1m13 0h1m4 0h1m8 0h1m2 0h2m1 0h1m1 0h2m1 0h1m1 0h3m3 0h2m2 0h2m2 0h1m1 0h3m3 0h1m2 0h2m17 0h1m2 0h1m2 0h1m21 0h1m3 0h1m20 0h1m2 0h1m9 0h1m1 0h1m1 0h1m3 0h1m1 0h1m2 0h5m2 0h5m1 0h1m2 0h2m3 0h1m12 0h1m12 0h1m1 0h1m4 0h1m7 0h1m12 0h1m4 0h1m8 0h1m2 0h1m1 0h2m1 0h1m1 0h1m10 0h2m5 0h4M109 277.5h1m5 0h1m22 0h1m53 0h2m2 0h1m1 0h2m1 0h3m2 0h1m1 0h1m1 0h1m1 0h3m1 0h2m2 0h1m3 0h1m2 0h1m4 0h1m4 0h1m1 0h1m13 0h1m1 0h1m7 0h1m1 0h1m10 0h1m20 0h1m1 0h2m5 0h1m1 0h3m3 0h3m5 0h2m10 0h1m5 0h1m23 0h1m56 0h1m2 0h6m2 0h3m1 0h3m1 0h1m2 0h1m1 0h1m3 0h1m2 0h1m5 0h1m3 0h1m1 0h1m14 0h2m7 0h1m1 0h1m10 0h1m21 0h3m5 0h1m8 0h1m2 0h1m2 0h1m3 0h1M103 278.5h1m7 0h2m14 0h1m29 0h1m18 0h1m6 0h1m3 0h1m2 0h1m1 0h1m6 0h1m4 0h1m2 0h1m7 0h1m1 0h3m1 0h1m2 0h1m5 0h1m2 0h1m21 0h1m29 0h1m1 0h1m7 0h1m5 0h2m6 0h1m2 0h1m4 0h3m1 0h1m1 0h1m3 0h2m7 0h2m15 0h1m28 0h1m18 0h1m7 0h1m3 0h1m1 0h1m1 0h1m4 0h1m1 0h1m3 0h3m1 0h3m2 0h1m4 0h1m1 0h1m1 0h2m1 0h1m5 0h1m2 0h1m21 0h1m29 0h1m1 0h1m7 0h1m5 0h2m8 0h1m1 0h3m1 0h1m2 0h1m3 0h1m2 0h1M103 279.5h1m6 0h1m1 0h2m64 0h1m6 0h1m10 0h2m6 0h3m4 0h2m1 0h1m1 0h1m2 0h1m3 0h2m2 0h1m7 0h1m4 0h1m54 0h1m1 0h1m11 0h1m2 0h5m1 0h2m3 0h1m2 0h3m7 0h1m1 0h2m64 0h1m6 0h1m9 0h2m3 0h1m4 0h1m2 0h1m2 0h1m2 0h2m1 0h1m1 0h1m2 0h2m2 0h1m8 0h1m3 0h1m54 0h1m1 0h1m12 0h1m5 0h2m6 0h1m1 0h2M105 280.5h1m1 0h2m3 0h1m4 0h1m1 0h1m2 0h1m2 0h1m3 0h2m47 0h1m1 0h1m6 0h1m8 0h1m1 0h2m3 0h4m2 0h1m1 0h2m2 0h3m3 0h1m1 0h1m5 0h1m67 0h2m1 0h2m8 0h1m3 0h2m7 0h1m4 0h1m2 0h1m1 0h2m2 0h1m4 0h1m1 0h1m2 0h1m3 0h1m3 0h2m46 0h1m1 0h1m6 0h1m8 0h2m7 0h2m3 0h4m4 0h1m2 0h1m1 0h1m2 0h2m1 0h1m67 0h2m1 0h2m8 0h1m3 0h1m1 0h1m2 0h2m2 0h1m4 0h1M106 281.5h1m5 0h1m2 0h1m14 0h1m7 0h1m40 0h1m13 0h2m1 0h1m2 0h1m1 0h3m6 0h3m2 0h1m5 0h1m8 0h1m6 0h1m4 0h1m26 0h1m38 0h2m2 0h1m6 0h5m7 0h1m5 0h1m2 0h1m14 0h1m8 0h1m40 0h1m12 0h1m1 0h2m3 0h2m5 0h1m2 0h8m1 0h1m2 0h1m8 0h1m6 0h1m4 0h1m26 0h1m42 0h2m2 0h1m3 0h3M106 282.5h2m13 0h1m72 0h2m9 0h1m1 0h1m4 0h1m1 0h1m1 0h3m2 0h1m7 0h1m21 0h1m16 0h1m12 0h1m21 0h1m3 0h2m7 0h1m1 0h1m5 0h2m5 0h1m1 0h1m4 0h2m6 0h1m72 0h1m1 0h3m5 0h1m2 0h1m1 0h2m2 0h2m1 0h2m1 0h1m1 0h1m7 0h1m21 0h1m16 0h1m13 0h1m20 0h1m15 0h1m1 0h2m1 0h2M111 283.5h1m61 0h3m11 0h1m3 0h2m4 0h1m4 0h1m2 0h3m1 0h2m1 0h6m1 0h1m1 0h1m1 0h1m5 0h1m5 0h1m7 0h1m20 0h2m19 0h1m6 0h1m1 0h1m8 0h1m4 0h4m4 0h2m2 0h1m6 0h3m6 0h1m62 0h1m13 0h1m3 0h2m4 0h1m1 0h2m1 0h1m1 0h3m1 0h2m2 0h3m1 0h1m2 0h1m1 0h1m1 0h1m2 0h2m1 0h1m4 0h1m8 0h1m41 0h1m6 0h2m8 0h1m4 0h3m1 0h1m5 0h2m3 0h1m3 0h1M109 284.5h1m1 0h1m2 0h1m11 0h1m32 0h1m23 0h1m5 0h1m3 0h1m6 0h3m1 0h1m3 0h2m5 0h1m1 0h1m2 0h2m22 0h1m32 0h1m3 0h1m11 0h1m9 0h1m2 0h1m2 0h1m1 0h1m6 0h1m3 0h1m2 0h1m9 0h1m1 0h1m2 0h1m11 0h1m31 0h1m23 0h1m5 0h1m3 0h1m8 0h1m3 0h1m1 0h1m4 0h4m1 0h1m2 0h2m22 0h1m31 0h1m4 0h1m11 0h1m8 0h1m3 0h1m4 0h1m4 0h1m7 0h1M107 285.5h1m7 0h1m5 0h1m63 0h1m6 0h1m2 0h1m3 0h1m1 0h1m1 0h1m1 0h1m1 0h1m3 0h1m3 0h1m1 0h1m1 0h2m5 0h2m12 0h1m7 0h1m48 0h1m1 0h1m8 0h4m7 0h2m11 0h1m7 0h1m5 0h1m64 0h1m5 0h1m3 0h1m3 0h1m1 0h1m1 0h2m3 0h1m1 0h1m4 0h2m9 0h2m11 0h1m7 0h1m49 0h1m1 0h1m8 0h1m2 0h1m7 0h2M103 286.5h1m5 0h1m37 0h1m20 0h1m17 0h1m2 0h1m1 0h2m7 0h1m7 0h3m6 0h1m11 0h1m3 0h2m57 0h1m8 0h1m4 0h1m4 0h2m1 0h1m5 0h1m4 0h1m3 0h1m4 0h1m37 0h1m21 0h1m16 0h1m3 0h3m7 0h1m5 0h2m3 0h1m1 0h2m4 0h1m9 0h1m3 0h1m1 0h1m57 0h1m7 0h1m4 0h1m4 0h2m2 0h3m1 0h1m3 0h2m1 0h1M117 287.5h1m2 0h1m49 0h1m16 0h2m5 0h1m5 0h1m4 0h2m3 0h2m1 0h1m5 0h2m3 0h2m5 0h1m5 0h1m44 0h1m14 0h1m9 0h1m3 0h1m6 0h1m24 0h1m1 0h1m49 0h1m16 0h1m1 0h1m5 0h1m5 0h1m12 0h1m4 0h1m1 0h1m2 0h1m1 0h1m4 0h1m5 0h1m45 0h1m13 0h1m9 0h1m3 0h1m6 0h3M109 288.5h3m9 0h1m1 0h1m62 0h1m2 0h1m4 0h1m1 0h2m2 0h3m4 0h1m2 0h2m2 0h1m1 0h1m3 0h1m1 0h1m29 0h1m12 0h1m19 0h1m3 0h1m1 0h1m3 0h1m1 0h1m4 0h1m3 0h1m1 0h1m3 0h4m1 0h1m2 0h4m1 0h1m1 0h1m6 0h2m1 0h1m9 0h1m1 0h1m62 0h1m1 0h1m4 0h1m1 0h2m3 0h1m4 0h3m1 0h2m2 0h1m1 0h1m4 0h1m1 0h1m29 0h1m12 0h1m19 0h1m2 0h1m2 0h1m3 0h2m4 0h1m3 0h1m2 0h1m3 0h4m4 0h2m3 0h2M180 289.5h1m14 0h1m5 0h1m1 0h1m1 0h2m3 0h1m4 0h2m4 0h1m11 0h1m56 0h1m1 0h1m2 0h1m14 0h1m5 0h3m3 0h2m82 0h1m13 0h1m5 0h1m2 0h5m1 0h1m2 0h2m7 0h1m10 0h1m56 0h1m1 0h1m3 0h1m14 0h1m4 0h5m1 0h1m1 0h1M107 290.5h1m36 0h1m41 0h1m4 0h1m3 0h1m2 0h1m2 0h1m5 0h1m2 0h2m5 0h3m3 0h1m5 0h1m14 0h1m12 0h1m42 0h1m7 0h1m2 0h1m1 0h2m3 0h3m2 0h2m2 0h2m3 0h1m3 0h2m31 0h1m41 0h1m5 0h1m2 0h1m2 0h1m2 0h1m1 0h1m1 0h1m2 0h1m1 0h4m3 0h2m1 0h1m3 0h1m5 0h1m14 0h1m11 0h1m43 0h1m6 0h1m3 0h1m1 0h1m3 0h1m5 0h2M104 291.5h1m3 0h2m64 0h1m20 0h1m4 0h2m4 0h1m4 0h1m5 0h1m3 0h2m1 0h1m2 0h1m12 0h1m51 0h1m8 0h1m3 0h2m2 0h4m4 0h1m4 0h1m7 0h1m3 0h2m64 0h1m19 0h1m10 0h1m1 0h3m1 0h1m5 0h1m2 0h2m1 0h1m2 0h1m13 0h1m51 0h1m8 0h1m7 0h2m6 0h3m1 0h3M108 292.5h2m8 0h1m36 0h1m14 0h1m18 0h1m5 0h1m3 0h1m4 0h1m1 0h1m4 0h1m1 0h1m4 0h1m1 0h1m3 0h1m9 0h1m54 0h1m11 0h1m5 0h1m1 0h4m1 0h1m18 0h1m1 0h1m7 0h1m36 0h1m15 0h1m18 0h1m5 0h1m2 0h1m5 0h2m5 0h1m2 0h1m3 0h1m1 0h1m3 0h1m8 0h1m55 0h1m11 0h1m4 0h1m1 0h2m4 0h1m8 0h2M105 293.5h1m15 0h1m6 0h1m16 0h1m1 0h1m1 0h1m4 0h1m41 0h1m2 0h2m9 0h1m2 0h1m1 0h1m5 0h1m72 0h1m12 0h3m2 0h1m18 0h1m15 0h1m6 0h1m15 0h1m2 0h1m1 0h1m4 0h1m40 0h1m2 0h2m6 0h1m6 0h2m6 0h1m1 0h2m68 0h1m12 0h1m4 0h1m7 0h2M105 294.5h1m4 0h1m75 0h1m12 0h2m1 0h2m1 0h2m6 0h2m1 0h3m3 0h1m2 0h1m73 0h1m9 0h1m3 0h3m1 0h1m2 0h1m1 0h1m7 0h1m5 0h1m75 0h1m11 0h2m4 0h2m9 0h1m5 0h4m74 0h1m9 0h1m3 0h2m3 0h1m1 0h1m1 0h1M111 295.5h1m75 0h1m3 0h1m2 0h1m3 0h1m2 0h1m1 0h2m5 0h1m1 0h1m7 0h2m15 0h1m63 0h1m15 0h1m2 0h1m1 0h4m4 0h2m5 0h1m75 0h1m2 0h1m2 0h1m4 0h1m2 0h1m8 0h2m3 0h5m1 0h1m14 0h1m64 0h1m13 0h1m1 0h3m1 0h2M105 296.5h1m12 0h1m19 0h1m32 0h1m22 0h1m4 0h1m3 0h1m4 0h2m4 0h1m5 0h2m7 0h1m3 0h1m15 0h1m10 0h1m36 0h3m2 0h1m1 0h1m10 0h1m3 0h1m1 0h2m5 0h1m2 0h1m11 0h1m19 0h1m33 0h1m21 0h1m4 0h1m3 0h1m2 0h4m5 0h1m4 0h2m8 0h1m3 0h1m14 0h1m10 0h1m38 0h1m2 0h1m2 0h1m9 0h1m4 0h2m1 0h1m4 0h1M105 297.5h1m12 0h1m2 0h1m11 0h1m63 0h1m3 0h1m4 0h1m4 0h1m20 0h1m60 0h1m9 0h1m5 0h3m1 0h1m1 0h1m3 0h1m10 0h2m11 0h1m3 0h1m10 0h1m63 0h1m4 0h1m3 0h1m5 0h1m19 0h1m60 0h1m9 0h1m6 0h1m2 0h1m2 0h1m2 0h1M154 298.5h1m19 0h1m30 0h1m1 0h1m6 0h1m31 0h1m21 0h1m10 0h1m17 0h1m10 0h1m1 0h1m15 0h1m52 0h1m20 0h1m32 0h3m4 0h1m30 0h1m21 0h1m11 0h1m16 0h1m10 0h1m2 0h1m15 0h1M108 299.5h1m78 0h2m12 0h2m4 0h2m7 0h1m13 0h1m28 0h1m22 0h1m19 0h1m15 0h1m15 0h1m1 0h2m74 0h1m1 0h1m11 0h1m1 0h1m3 0h1m1 0h1m2 0h2m2 0h1m14 0h3m25 0h1m22 0h1m19 0h1m17 0h1M107 300.5h1m12 0h1m59 0h1m29 0h1m9 0h1m53 0h1m41 0h1m6 0h1m8 0h1m12 0h1m60 0h1m29 0h1m8 0h1m53 0h1m49 0h1m2 0h2M103 301.5h1m3 0h1m82 0h1m2 0h3m7 0h3m1 0h1m8 0h1m17 0h2m46 0h1m19 0h1m19 0h2m1 0h1m3 0h1m2 0h1m83 0h1m1 0h2m1 0h1m6 0h3m1 0h1m9 0h1m64 0h1m19 0h1m17 0h1m2 0h3M115 302.5h1m65 0h1m3 0h1m13 0h1m6 0h1m5 0h2m1 0h1m1 0h2m17 0h1m50 0h1m29 0h1m10 0h1m12 0h1m64 0h1m3 0h1m14 0h1m6 0h1m8 0h2m1 0h1m16 0h1m50 0h1m30 0h1m9 0h1M109 303.5h1m65 0h1m12 0h1m6 0h1m5 0h1m5 0h1m57 0h1m56 0h2m2 0h1m7 0h1m66 0h1m11 0h1m6 0h1m6 0h1m4 0h1m58 0h1m56 0h2m2 0h1M143 304.5h1m48 0h1m17 0h1m95 0h1m7 0h1m2 0h1m4 0h1m1 0h1m44 0h1m47 0h1m17 0h1m95 0h1m5 0h5m1 0h1m4 0h2M172 305.5h1m27 0h1m2 0h1m1 0h1m17 0h1m29 0h1m11 0h1m29 0h1m4 0h2m9 0h1m12 0h1m2 0h1m69 0h1m28 0h1m1 0h1m2 0h1m16 0h1m29 0h1m11 0h1m29 0h1m16 0h1m12 0h1m2 0h1M108 306.5h1m3 0h1m1 0h1m3 0h1m44 0h1m8 0h1m11 0h1m4 0h1m17 0h1m10 0h1m4 0h1m1 0h1m19 0h1m60 0h1m10 0h1m3 0h1m3 0h1m1 0h1m5 0h1m3 0h1m1 0h1m3 0h1m44 0h1m9 0h1m11 0h1m4 0h1m17 0h1m9 0h1m5 0h2m20 0h1m60 0h1m10 0h1m3 0h1m3 0h1m1 0h1M110 307.5h2m84 0h1m42 0h1m17 0h1m44 0h1m21 0h2m9 0h1m1 0h1m83 0h1m6 0h2m35 0h1m17 0h1m43 0h1m20 0h2M108 308.5h1m8 0h1m75 0h1m12 0h1m4 0h1m3 0h1m5 0h1m55 0h1m17 0h1m9 0h1m8 0h2m5 0h1m2 0h1m1 0h1m7 0h1m8 0h1m73 0h3m11 0h1m5 0h1m3 0h1m5 0h1m55 0h1m16 0h1m10 0h1m8 0h2m5 0h1m1 0h1m2 0h1M103 309.5h1m1 0h1m2 0h1m48 0h1m36 0h2m19 0h1m20 0h1m37 0h1m9 0h1m12 0h1m4 0h1m19 0h1m2 0h1m2 0h1m2 0h1m2 0h1m47 0h1m36 0h1m1 0h1m18 0h1m20 0h1m38 0h1m8 0h1m12 0h1m4 0h1m20 0h1m1 0h1M163 310.5h1m20 0h1m17 0h1m16 0h1m7 0h1m11 0h1m30 0h1m29 0h1m1 0h1m7 0h1m4 0h2m71 0h1m20 0h1m17 0h1m17 0h1m7 0h1m11 0h1m30 0h1m29 0h1m1 0h1m7 0h1M109 311.5h1m7 0h1m34 0h1m33 0h1m15 0h1m102 0h1m7 0h1m3 0h1m16 0h1m7 0h1m34 0h1m33 0h1m16 0h1m102 0h1m6 0h1m3 0h1M134 312.5h1m63 0h1m4 0h2m6 0h1m6 0h2m13 0h1m50 0h1m18 0h1m10 0h1m8 0h1m35 0h1m64 0h1m3 0h2m6 0h1m6 0h1m1 0h1m12 0h1m51 0h1m18 0h1m10 0h1m8 0h1M113 313.5h1m82 0h1m30 0h1m25 0h1m26 0h1m6 0h1m5 0h1m15 0h1m4 0h2m4 0h3m16 0h1m82 0h1m29 0h1m26 0h1m25 0h1m7 0h1m5 0h1m14 0h1m10 0h1m1 0h2M106 314.5h1m18 0h1m48 0h1m52 0h1m103 0h1m18 0h1m49 0h1m52 0h1M147 315.5h1m79 0h1m57 0h1m16 0h1m5 0h1m11 0h1m1 0h1m49 0h1m80 0h1m56 0h1m17 0h1m4 0h1m11 0h1m1 0h1M105 316.5h1m93 0h1m15 0h2m32 0h1m8 0h1m5 0h1m16 0h1m6 0h1m18 0h1m10 0h1m11 0h1m93 0h1m14 0h1m1 0h1m33 0h1m7 0h1m5 0h1m16 0h1m6 0h1m19 0h1m10 0h1M109 317.5h1m89 0h1m35 0h1m90 0h1m7 0h1m89 0h1m36 0h1m89 0h1M200 318.5h1m25 0h1m84 0h1m8 0h1m1 0h1m102 0h1m26 0h1m83 0h1m8 0h1m1 0h1M105 319.5h1m18 0h1m68 0h1m2 0h1m12 0h1m48 0h1m59 0h1m3 0h1m7 0h1m19 0h1m67 0h1m2 0h1m13 0h1m48 0h1m59 0h1m2 0h1M192 320.5h1m19 0h1m3 0h2m84 0h1m17 0h1m97 0h1m18 0h1m3 0h1m1 0h1m84 0h1m16 0h1M123 321.5h1m82 0h1m12 0h1m67 0h1m9 0h1m25 0h1m25 0h1m82 0h1m11 0h1m67 0h1m10 0h1m25 0h1M103 322.5h1m3 0h1m93 0h1m12 0h1m10 0h1m1 0h1m40 0h1m48 0h1m1 0h1m8 0h1m3 0h1m94 0h1m11 0h1m10 0h1m2 0h1m39 0h1m48 0h1m1 0h1M284 323.5h1m39 0h1m184 0h1m39 0h1M220 324.5h1m106 0h2m117 0h1m105 0h2M260 325.5h1m65 0h1m158 0h1m65 0h1M132 326.5h1m81 0h1m82 0h1m12 0h1m2 0h1m11 0h1m31 0h1m82 0h1m81 0h1m13 0h1m1 0h1m11 0h1M180 327.5h1m16 0h1m6 0h1m67 0h1m34 0h1m16 0h1m80 0h1m16 0h1m7 0h1m66 0h1m34 0h1m16 0h1M108 328.5h1m15 0h1m75 0h1m26 0h1m79 0h1m21 0h1m3 0h1m16 0h1m74 0h1m27 0h1m78 0h1M111 329.5h1m209 0h1m3 0h1m11 0h1m209 0h1m2 0h1M171 330.5h1m40 0h1m184 0h1m39 0h1M217 331.5h1m1 0h1m72 0h1m150 0h1m1 0h1m72 0h1M199 332.5h1m3 0h1m4 0h1m53 0h1m25 0h1m22 0h1m112 0h1m3 0h1m5 0h1m52 0h1m25 0h1m22 0h1M170 333.5h1m224 0h1M106 335.5h1m112 0h1m14 0h1m79 0h1m7 0h1m8 0h1m112 0h1m15 0h1m78 0h1m7 0h1M203 336.5h1m2 0h1m221 0h1m2 0h1M111 337.5h1m200 0h1m23 0h1m200 0h1M215 338.5h1m12 0h1m211 0h1m12 0h1M323 339.5h1m225 0h1M111 340.5h1m120 0h1m103 0h1m120 0h1M105 341.5h1m13 0h1m84 0h1m95 0h1m29 0h1m13 0h1m85 0h1m95 0h1M105 342.5h1m75 0h1m32 0h1m115 0h1m76 0h1m31 0h1M103 343.5h1m85 0h1m14 0h1m19 0h1m103 0h1m86 0h1m13 0h1m19 0h1M237 344.5h1m224 0h1M123 345.5h1m82 0h1m1 0h1m25 0h1m114 0h1m81 0h1m1 0h1m26 0h1M323 346.5h1m225 0h1M178 347.5h1m224 0h1M133 348.5h1m74 0h1m97 0h1m51 0h1m74 0h1m97 0h1M206 349.5h1m16 0h1m6 0h1m90 0h1m109 0h1m17 0h1m6 0h1m90 0h1M115 350.5h1m175 0h1m48 0h1m175 0h1M186 351.5h1m13 0h1m210 0h1m13 0h1M252 352.5h1m224 0h1M214 353.5h1m224 0h1M106 355.5h1m103 0h1m28 0h1m84 0h1m7 0h1m102 0h1m29 0h1m84 0h1M180 356.5h1m225 0h1M307 358.5h1m224 0h1M300 359.5h1m225 0h1M305 360.5h1m9 0h1m214 0h1m9 0h1M322 362.5h1m224 0h1M120 363.5h1m18 0h1m185 0h1m20 0h1m17 0h1m186 0h1M273 366.5h1m224 0h1M115 369.5h1m225 0h1M145 370.5h1m13 0h1m210 0h1m13 0h1M223 371.5h1m224 0h1M181 374.5h1m91 0h1m132 0h1m92 0h1M201 375.5h1m224 0h1M206 379.5h1m15 0h1m208 0h1m16 0h1M160 380.5h1m48 0h1m97 0h1m77 0h1m48 0h1m97 0h1M274 382.5h1m225 0h1M248 385.5h1m225 0h1M247 386.5h1m225 0h1M283 387.5h1m225 0h1M113 391.5h1m114 0h1m110 0h1m113 0h1M137 393.5h1m105 0h1m118 0h1m105 0h1M221 395.5h1m225 0h1M251 397.5h1m225 0h1M126 407.5h1m224 0h1M279 409.5h1m225 0h1M103 410.5h1m225 0h1"/>
<path id="b" d="M260 157.5h1m129 0h1M369 170.5h1M281 173.5h1M553 178.5h1M378 179.5h1M265 180.5h1M146 181.5h1m225 0h1M156 182.5h1m112 0h1m111 0h1m113 0h1M142 183.5h1M147 184.5h1m4 0h1m225 0h1m116 0h1M148 185.5h1m8 0h1m225 0h1M132 186.5h1M127 187.5h1m13 0h1m210 0h1m9 0h1m4 0h1m9 0h1M156 188.5h1m5 0h1m1 0h1m8 0h1m207 0h1m3 0h1m4 0h1m7 0h1M138 189.5h1m15 0h1m3 0h1m205 0h1m15 0h1M159 190.5h1m25 0h1m77 0h1m4 0h1m93 0h1M128 191.5h1m18 0h1m2 0h1m1 0h1m11 0h1m189 0h1m1 0h1m15 0h1m2 0h2m3 0h2M131 192.5h1m9 0h2m11 0h1m7 0h1m214 0h1m1 0h1m8 0h1M144 193.5h1m18 0h1m9 0h1m196 0h1m6 0h1m3 0h2m5 0h1m10 0h1M166 194.5h1m193 0h1m21 0h1m8 0h1M145 195.5h1m217 0h1m6 0h1m6 0h1m103 0h1M142 196.5h1m2 0h1m9 0h1m31 0h1m66 0h1m112 0h1m3 0h1m9 0h1m97 0h1m12 0h1M151 197.5h1m6 0h1m3 0h1m100 0h1m13 0h1m96 0h1m2 0h1m2 0h1m2 0h1m11 0h1m93 0h1m12 0h1M120 198.5h1m2 0h1m8 0h1m2 0h1m5 0h1m20 0h1m182 0h1m2 0h1m17 0h3m14 0h1m3 0h1M146 199.5h1m19 0h1m2 0h2m83 0h1m9 0h1m6 0h1m8 0h1m101 0h1m11 0h1m85 0h1m8 0h1m7 0h1M131 200.5h1m9 0h2m1 0h2m7 0h1m33 0h1m169 0h1m8 0h1m3 0h2m6 0h1m4 0h1m17 0h1m11 0h1M131 201.5h1m2 0h1m11 0h1m2 0h1m4 0h1m3 0h1m11 0h1m88 0h1m2 0h1m3 0h1m6 0h2m76 0h2m4 0h1m13 0h1m12 0h1m106 0h1m6 0h2M133 202.5h1m2 0h1m8 0h2m5 0h1m6 0h1m2 0h1m195 0h1m11 0h1m6 0h2m5 0h1m1 0h1m1 0h1m87 0h1m29 0h1M134 203.5h1m5 0h1m7 0h1m8 0h1m7 0h1m2 0h1m18 0h1m65 0h1m12 0h1m99 0h1m2 0h1m6 0h1m8 0h1m3 0h1m3 0h1m1 0h1m6 0h1m76 0h1m31 0h1M124 204.5h1m24 0h1m238 0h1m3 0h1m119 0h1M138 205.5h1m5 0h1m1 0h1m2 0h2m13 0h1m191 0h1m7 0h1m2 0h1m1 0h1m4 0h2m4 0h1m126 0h1M134 206.5h1m1 0h1m6 0h1m1 0h1m7 0h1m2 0h3m7 0h1m4 0h1m15 0h1m61 0h1m14 0h3m2 0h1m89 0h2m1 0h1m6 0h2m10 0h2m8 0h1m20 0h1m65 0h1m11 0h2M135 207.5h1m4 0h2m4 0h1m1 0h1m11 0h1m2 0h1m1 0h1m89 0h1m104 0h1m5 0h1m4 0h2m2 0h1m10 0h1m1 0h1m91 0h1M134 208.5h1m3 0h2m11 0h2m3 0h1m9 0h1m1 0h1m1 0h1m7 0h1m70 0h1m4 0h1m5 0h1m10 0h1m81 0h1m2 0h1m3 0h1m2 0h2m7 0h1m4 0h1m3 0h1m6 0h1m6 0h1m8 0h1m74 0h1m16 0h1M123 209.5h1m6 0h1m4 0h1m4 0h1m3 0h1m5 0h1m14 0h1m69 0h1m24 0h2m14 0h1m59 0h1m21 0h1m2 0h1m3 0h1m5 0h1m3 0h2m13 0h1m4 0h1m1 0h1m18 0h1m44 0h1M125 210.5h1m3 0h1m6 0h1m21 0h1m6 0h1m2 0h1m79 0h2m4 0h1m18 0h1m102 0h2m6 0h1m5 0h1m3 0h1m78 0h2m4 0h1m18 0h1M125 211.5h1m1 0h1m1 0h1m22 0h1m5 0h1m3 0h1m10 0h1m57 0h1m27 0h1m91 0h2m1 0h1m8 0h1m20 0h1m2 0h2m5 0h1m61 0h1m35 0h1M133 212.5h2m4 0h1m8 0h1m5 0h1m5 0h1m4 0h1m2 0h1m5 0h1m11 0h1m62 0h1m7 0h1m26 0h1m63 0h1m11 0h1m13 0h3m6 0h1m2 0h1m2 0h1m4 0h1m17 0h1m59 0h1m9 0h1m26 0h1M120 213.5h2m4 0h1m6 0h1m3 0h1m1 0h1m6 0h1m2 0h1m3 0h1m6 0h1m3 0h1m1 0h1m14 0h1m60 0h1m8 0h1m9 0h1m17 0h1m63 0h1m2 0h1m1 0h1m1 0h1m2 0h1m5 0h1m2 0h1m9 0h1m13 0h1m11 0h1m5 0h2m61 0h1m11 0h1m14 0h1m5 0h1m3 0h1M114 214.5h1m30 0h1m5 0h1m2 0h1m7 0h1m2 0h2m1 0h1m1 0h1m1 0h1m65 0h1m8 0h1m18 0h1m73 0h1m23 0h1m1 0h2m2 0h1m13 0h1m2 0h2m1 0h1m3 0h1m1 0h1m7 0h1m68 0h1m15 0h2m30 0h1M131 215.5h1m4 0h1m1 0h1m8 0h1m5 0h1m4 0h1m27 0h1m59 0h1m12 0h1m9 0h1m70 0h1m9 0h1m5 0h1m4 0h1m1 0h1m8 0h1m5 0h1m2 0h2m28 0h1m59 0h1m38 0h1M120 216.5h1m6 0h1m8 0h1m5 0h2m3 0h1m9 0h1m4 0h1m5 0h1m1 0h1m4 0h1m68 0h1m15 0h1m4 0h1m81 0h1m13 0h1m6 0h2m3 0h1m16 0h1m2 0h1m7 0h1m5 0h1m77 0h1m8 0h2m10 0h1M111 217.5h1m3 0h1m15 0h1m3 0h1m1 0h1m2 0h1m2 0h1m8 0h1m1 0h1m9 0h1m5 0h1m3 0h1m4 0h1m60 0h1m10 0h1m5 0h1m5 0h2m72 0h1m3 0h1m6 0h1m6 0h1m5 0h1m3 0h1m4 0h1m8 0h1m6 0h2m1 0h1m8 0h2m4 0h1m58 0h1m1 0h1m10 0h1m2 0h1m2 0h1m6 0h1m10 0h1m3 0h1M123 218.5h1m1 0h1m2 0h1m1 0h1m1 0h1m48 0h1m66 0h1m4 0h1m4 0h1m6 0h1m2 0h1m1 0h1m1 0h1m5 0h1m2 0h1m13 0h1m53 0h1m4 0h1m1 0h2m7 0h1m9 0h1m4 0h1m25 0h1m68 0h1m2 0h1m5 0h1m8 0h1m1 0h1m2 0h2m6 0h1m14 0h1M117 219.5h1m13 0h1m15 0h2m2 0h1m12 0h1m1 0h1m8 0h3m1 0h1m48 0h1m30 0h2m27 0h1m2 0h1m40 0h1m9 0h1m15 0h1m9 0h1m1 0h1m2 0h1m2 0h1m9 0h1m3 0h1m1 0h1m6 0h3m52 0h1m10 0h1m13 0h1m5 0h2m1 0h1m9 0h1m17 0h1m7 0h1M121 220.5h2m9 0h1m1 0h1m27 0h1m12 0h1m2 0h1m8 0h1m50 0h1m12 0h1m1 0h1m3 0h1m4 0h1m6 0h2m1 0h1m3 0h1m5 0h1m2 0h1m58 0h2m1 0h1m6 0h1m3 0h2m17 0h1m3 0h1m1 0h2m16 0h1m75 0h1m5 0h1m10 0h4m4 0h1M124 221.5h1m4 0h1m2 0h1m15 0h1m3 0h1m5 0h1m24 0h1m53 0h1m17 0h1m3 0h1m5 0h2m14 0h2m5 0h1m1 0h1m63 0h1m22 0h1m6 0h1m8 0h1m86 0h1m3 0h1m1 0h2m1 0h1m2 0h1m2 0h1m10 0h1m7 0h1M120 222.5h1m1 0h1m1 0h1m1 0h1m3 0h1m13 0h1m3 0h1m5 0h1m5 0h3m78 0h2m2 0h1m2 0h2m1 0h1m5 0h1m13 0h1m21 0h1m38 0h1m6 0h1m5 0h1m3 0h2m5 0h1m1 0h1m3 0h1m10 0h1m6 0h1m4 0h1m10 0h2m70 0h1m1 0h2m4 0h1m13 0h1m1 0h1m3 0h1M124 223.5h2m8 0h1m3 0h1m5 0h1m8 0h1m31 0h1m54 0h2m16 0h2m11 0h1m74 0h1m2 0h5m11 0h1m3 0h1m24 0h1m22 0h1m47 0h1m17 0h1m2 0h1m4 0h1m4 0h1m8 0h1M115 224.5h2m2 0h1m4 0h1m15 0h2m18 0h1m8 0h3m6 0h1m55 0h1m12 0h1m5 0h1m9 0h2m2 0h1m1 0h2m7 0h1m6 0h1m79 0h1m1 0h1m9 0h1m7 0h1m9 0h2m60 0h1m14 0h1m16 0h1m4 0h2m15 0h1m2 0h1M117 225.5h1m3 0h2m1 0h1m7 0h1m18 0h1m10 0h1m6 0h1m9 0h1m2 0h1m81 0h1m7 0h1m69 0h2m13 0h1m18 0h1m30 0h1m61 0h1m15 0h1m3 0h1m7 0h1m1 0h2m2 0h1m1 0h1m13 0h1M112 226.5h1m9 0h1m5 0h1m2 0h1m10 0h1m15 0h1m2 0h1m11 0h1m2 0h1m2 0h1m46 0h1m26 0h2m2 0h1m11 0h1m5 0h1m5 0h1m2 0h2m8 0h1m42 0h1m19 0h1m7 0h1m2 0h1m32 0h1m1 0h1m5 0h2m72 0h1m6 0h2m2 0h1m9 0h3m4 0h1m7 0h1M123 227.5h1m1 0h1m6 0h1m1 0h1m12 0h1m4 0h1m3 0h1m7 0h1m2 0h1m2 0h1m12 0h1m5 0h1m62 0h1m2 0h1m15 0h1m12 0h1m1 0h1m2 0h1m57 0h1m1 0h1m8 0h2m12 0h1m5 0h1m2 0h1m10 0h1m5 0h2m4 0h2m1 0h2m5 0h1m47 0h1m2 0h1m6 0h1m5 0h1m1 0h1m8 0h2m8 0h1m2 0h1m7 0h1M108 228.5h1m6 0h1m9 0h1m11 0h1m52 0h1m50 0h1m11 0h1m8 0h1m1 0h1m7 0h1m3 0h2m16 0h1m37 0h1m8 0h1m3 0h1m12 0h1m4 0h1m24 0h1m6 0h1m19 0h1m33 0h1m2 0h1m9 0h1m4 0h2m6 0h1m11 0h1m2 0h1m3 0h1m2 0h2m2 0h2m3 0h1m1 0h1m6 0h1M106 229.5h1m10 0h1m3 0h1m12 0h1m24 0h1m10 0h1m24 0h1m9 0h1m53 0h2m10 0h3m1 0h1m5 0h1m3 0h1m46 0h1m10 0h2m1 0h1m5 0h1m7 0h1m8 0h1m25 0h1m18 0h2m54 0h1m2 0h1m11 0h1m13 0h2m3 0h1m2 0h2m2 0h1m1 0h1M146 230.5h1m20 0h1m3 0h1m5 0h1m5 0h1m52 0h1m12 0h1m5 0h1m2 0h1m6 0h1m2 0h1m2 0h1m1 0h1m2 0h1m6 0h3m52 0h1m6 0h1m11 0h1m13 0h1m20 0h1m1 0h1m1 0h1m10 0h1m53 0h1m12 0h1m15 0h1m4 0h2m2 0h1m8 0h4M125 231.5h1m16 0h1m17 0h1m14 0h1m6 0h1m8 0h1m52 0h1m8 0h1m15 0h1m7 0h1m1 0h1m3 0h2m10 0h1m54 0h1m17 0h1m16 0h1m21 0h1m52 0h1m8 0h1m12 0h2m10 0h1m1 0h2m1 0h1m4 0h1m7 0h1m8 0h1m4 0h1m25 0h1M108 232.5h1m18 0h1m40 0h1m2 0h1m2 0h1m9 0h1m41 0h1m10 0h1m5 0h1m3 0h2m4 0h1m7 0h2m4 0h1m6 0h1m15 0h1m43 0h1m6 0h2m6 0h1m3 0h1m42 0h1m5 0h1m52 0h1m8 0h1m1 0h1m5 0h1m13 0h2m3 0h1m8 0h1m13 0h1m7 0h1M119 233.5h1m4 0h2m13 0h1m30 0h1m3 0h1m59 0h1m5 0h1m10 0h1m20 0h1m2 0h1m17 0h2m31 0h1m22 0h1m46 0h2m2 0h1m58 0h1m3 0h1m2 0h1m7 0h1m2 0h1m21 0h1m17 0h2m1 0h1m31 0h1M106 234.5h2m5 0h1m2 0h1m3 0h1m53 0h1m3 0h1m1 0h1m4 0h1m44 0h1m11 0h1m1 0h1m5 0h1m7 0h1m2 0h1m10 0h1m5 0h1m6 0h1m4 0h1m1 0h1m38 0h1m1 0h1m7 0h1m58 0h1m1 0h1m1 0h1m1 0h1m3 0h3m9 0h1m41 0h1m3 0h1m5 0h2m10 0h1m10 0h1m5 0h1m11 0h1M115 235.5h2m49 0h1m11 0h1m7 0h1m43 0h1m8 0h1m1 0h1m3 0h1m5 0h1m15 0h1m6 0h1m2 0h1m3 0h2m1 0h1m3 0h2m4 0h1m3 0h1m4 0h1m24 0h1m10 0h1m8 0h2m17 0h1m17 0h1m5 0h1m8 0h1m1 0h1m6 0h1m2 0h1m42 0h1m9 0h1m4 0h1m5 0h1m12 0h1m13 0h1m3 0h2m1 0h1m2 0h2m3 0h1m1 0h1m2 0h1m1 0h1m2 0h1M107 236.5h1m8 0h1m3 0h1m38 0h1m5 0h1m13 0h1m1 0h2m5 0h1m2 0h1m51 0h2m6 0h2m3 0h2m12 0h1m4 0h1m11 0h1m3 0h1m45 0h1m3 0h1m48 0h1m15 0h1m7 0h1m41 0h1m10 0h1m7 0h1m1 0h1m9 0h1m4 0h1m3 0h1m4 0h1M110 237.5h1m12 0h1m50 0h1m6 0h1m13 0h1m52 0h1m7 0h1m13 0h1m5 0h2m7 0h1m3 0h1m15 0h1m36 0h1m5 0h1m27 0h1m23 0h1m6 0h1m1 0h1m10 0h1m35 0h1m5 0h1m11 0h1m6 0h1m22 0h1m8 0h2m6 0h1M112 238.5h1m22 0h1m15 0h1m21 0h1m3 0h2m3 0h1m43 0h1m19 0h1m8 0h1m3 0h1m17 0h1m3 0h1m9 0h2m2 0h1m35 0h1m4 0h1m4 0h1m18 0h1m38 0h1m3 0h1m64 0h2m1 0h1m8 0h1m4 0h1m13 0h1m2 0h1m3 0h1m9 0h1m6 0h2M114 239.5h1m77 0h1m35 0h1m5 0h1m1 0h1m5 0h1m4 0h1m2 0h1m2 0h1m8 0h1m14 0h1m2 0h1m4 0h1m4 0h1m3 0h2m37 0h1m4 0h1m75 0h1m44 0h1m18 0h1m1 0h1m11 0h1m7 0h1m5 0h1m7 0h1m1 0h1m7 0h1m4 0h1M107 240.5h1m1 0h1m12 0h1m1 0h1m52 0h1m65 0h1m5 0h1m11 0h2m16 0h2m3 0h1m7 0h1m41 0h1m60 0h2m3 0h1m16 0h1m20 0h1m21 0h1m12 0h1m1 0h1m19 0h1m8 0h2m3 0h1m9 0h1m6 0h1M110 241.5h1m8 0h1m1 0h1m9 0h1m32 0h1m36 0h1m3 0h1m26 0h1m3 0h1m7 0h1m17 0h1m5 0h1m9 0h1m2 0h2m4 0h3m7 0h1m38 0h2m4 0h3m2 0h1m41 0h1m6 0h1m15 0h1m13 0h1m37 0h1m1 0h1m1 0h2m7 0h1m3 0h1m12 0h1m1 0h1m8 0h2m15 0h1m25 0h1M119 242.5h1m56 0h1m2 0h1m1 0h1m9 0h1m33 0h1m3 0h3m3 0h1m4 0h1m16 0h1m7 0h1m11 0h1m8 0h1m7 0h1m3 0h1m39 0h1m1 0h1m3 0h1m56 0h1m4 0h2m7 0h1m34 0h2m3 0h1m4 0h1m8 0h1m3 0h1m8 0h1m8 0h1m10 0h1m8 0h1m4 0h1m1 0h1m17 0h1M107 243.5h1m8 0h1m69 0h2m3 0h1m49 0h1m1 0h1m1 0h1m6 0h2m16 0h1m3 0h1m7 0h1m17 0h1m39 0h1m73 0h2m38 0h2m4 0h1m7 0h1m1 0h1m6 0h2m7 0h1m8 0h1m15 0h1m2 0h1m8 0h1m2 0h1M110 244.5h1m4 0h1m2 0h1m58 0h1m3 0h1m5 0h2m13 0h1m2 0h1m20 0h1m3 0h1m7 0h1m5 0h1m2 0h1m9 0h1m1 0h1m26 0h1m6 0h1m42 0h1m6 0h1m59 0h1m9 0h1m1 0h1m14 0h1m20 0h1m9 0h1m1 0h1m12 0h1m6 0h1m29 0h1m1 0h1m2 0h1m2 0h1M115 245.5h1m52 0h1m18 0h1m38 0h1m11 0h1m9 0h1m17 0h1m1 0h1m6 0h1m13 0h1m7 0h1m96 0h1m15 0h1m1 0h1m39 0h1m11 0h1m9 0h1m2 0h1m14 0h1m8 0h1m12 0h1m7 0h1m16 0h1m9 0h1M110 246.5h1m3 0h1m7 0h1m24 0h1m20 0h1m7 0h1m6 0h2m1 0h1m49 0h1m3 0h1m7 0h1m1 0h1m2 0h1m28 0h1m1 0h1m2 0h1m27 0h1m24 0h1m52 0h1m15 0h1m2 0h1m8 0h1m10 0h1m29 0h1m3 0h1m8 0h1m16 0h2m14 0h1m1 0h1m2 0h1M103 247.5h1m11 0h1m7 0h1m47 0h1m1 0h1m7 0h1m8 0h1m6 0h1m17 0h1m14 0h1m8 0h1m5 0h1m7 0h1m2 0h1m2 0h1m8 0h1m14 0h1m1 0h2m4 0h1m4 0h1m29 0h1m4 0h1m67 0h1m41 0h1m8 0h1m5 0h1m7 0h1m14 0h1m4 0h1m24 0h1m2 0h1m3 0h2m18 0h1M104 248.5h1m6 0h1m36 0h1m33 0h1m6 0h1m3 0h1m2 0h1m11 0h1m17 0h2m3 0h1m3 0h1m2 0h1m27 0h1m29 0h1m2 0h2m23 0h1m4 0h1m7 0h1m70 0h1m13 0h1m30 0h1m3 0h1m23 0h1m40 0h1M118 249.5h1m68 0h1m28 0h1m16 0h1m6 0h1m12 0h1m6 0h1m36 0h1m15 0h1m9 0h1m3 0h1m5 0h1m6 0h1m2 0h2m68 0h1m1 0h1m26 0h1m13 0h1m9 0h1m5 0h2m11 0h1m27 0h1m5 0h1m2 0h1m7 0h1m22 0h1M109 250.5h1m3 0h1m3 0h1m4 0h1m60 0h2m13 0h2m3 0h1m12 0h1m15 0h1m1 0h1m3 0h1m2 0h1m7 0h1m28 0h1m29 0h1m2 0h1m18 0h1m8 0h1m69 0h1m8 0h1m10 0h1m27 0h1m2 0h1m1 0h2m11 0h1m18 0h1m21 0h2m1 0h1m17 0h1m5 0h1M185 251.5h1m3 0h1m2 0h1m29 0h1m2 0h1m1 0h1m9 0h1m2 0h1m4 0h2m19 0h1m22 0h1m3 0h1m4 0h1m1 0h2m9 0h1m13 0h1m3 0h1m4 0h1m4 0h1m2 0h1m72 0h1m5 0h1m27 0h1m1 0h2m1 0h1m1 0h4m3 0h2m5 0h1m1 0h1m30 0h1m19 0h1m1 0h1m2 0h1M108 252.5h1m3 0h1m5 0h1m67 0h1m5 0h1m6 0h1m6 0h1m17 0h1m3 0h1m4 0h2m1 0h1m1 0h1m21 0h1m7 0h1m27 0h1m3 0h1m18 0h1m13 0h1m6 0h1m2 0h1m60 0h2m11 0h1m1 0h1m5 0h1m38 0h1m21 0h1m36 0h3m14 0h1M108 253.5h2m74 0h1m2 0h2m48 0h1m3 0h1m8 0h1m17 0h1m11 0h1m14 0h1m3 0h1m3 0h1m1 0h1m8 0h1m2 0h1m9 0h1m8 0h1m79 0h2m10 0h1m33 0h1m13 0h1m47 0h1m4 0h1m12 0h1m9 0h1M114 254.5h1m50 0h1m17 0h1m2 0h1m16 0h2m22 0h1m4 0h1m1 0h1m4 0h1m12 0h1m51 0h2m4 0h1m6 0h1m72 0h1m18 0h1m1 0h1m11 0h1m33 0h1m1 0h1m16 0h1m34 0h1m15 0h1m1 0h2M113 255.5h1m6 0h1m54 0h1m12 0h1m1 0h1m3 0h1m11 0h1m9 0h1m3 0h1m5 0h1m11 0h1m5 0h1m6 0h1m39 0h1m16 0h1m37 0h1m47 0h1m5 0h1m10 0h1m4 0h1m1 0h2m1 0h1m29 0h1m1 0h1m9 0h1m13 0h1m14 0h1m23 0h1m2 0h1m13 0h1M107 256.5h1m3 0h1m17 0h1m54 0h1m3 0h2m1 0h1m3 0h1m10 0h1m4 0h1m11 0h2m29 0h1m37 0h1m8 0h1m7 0h2m3 0h1m22 0h1m32 0h1m39 0h1m4 0h2m4 0h1m8 0h2m16 0h2m1 0h1m5 0h1m59 0h1m14 0h1m6 0h1M109 257.5h1m86 0h2m45 0h2m57 0h1m38 0h1m72 0h1m7 0h3m26 0h1m16 0h1m1 0h1m53 0h1m2 0h1M107 258.5h1m74 0h1m9 0h1m4 0h1m13 0h1m8 0h1m3 0h2m67 0h2m3 0h2m9 0h1m14 0h1m3 0h1m4 0h1m3 0h1m78 0h1m5 0h2m12 0h2m8 0h1m13 0h1m18 0h1m38 0h1m1 0h1m1 0h1m6 0h1m2 0h1m16 0h1M103 259.5h1m4 0h2m5 0h1m70 0h1m2 0h1m14 0h1m13 0h1m2 0h1m15 0h1m60 0h1m4 0h1m12 0h1m5 0h1m1 0h1m9 0h2m5 0h1m67 0h1m2 0h1m1 0h1m29 0h1m7 0h1m8 0h1m67 0h1m1 0h1m9 0h1m8 0h1M108 260.5h1m80 0h1m1 0h1m17 0h1m3 0h1m10 0h1m2 0h1m4 0h1m10 0h1m52 0h1m6 0h1m2 0h1m4 0h1m19 0h1m1 0h1m3 0h1m72 0h1m5 0h1m6 0h2m22 0h1m1 0h1m2 0h1m1 0h2m21 0h1m37 0h1m5 0h1m2 0h1m4 0h1m13 0h1M103 261.5h1m77 0h1m19 0h1m2 0h1m18 0h1m38 0h1m45 0h1m98 0h1m14 0h1m25 0h1m38 0h1m35 0h1m4 0h1m4 0h1m15 0h1m3 0h1M111 262.5h1m72 0h1m8 0h1m12 0h1m36 0h1m59 0h1m2 0h1m9 0h2m13 0h1m2 0h1m2 0h1m12 0h1m59 0h1m7 0h1m1 0h1m28 0h1m3 0h1m3 0h1m21 0h1m52 0h1M104 263.5h1m1 0h1m86 0h1m2 0h1m5 0h1m13 0h1m3 0h1m2 0h1m2 0h1m2 0h3m48 0h1m38 0h1m10 0h1m1 0h1m1 0h1m1 0h1m4 0h1m80 0h1m4 0h1m14 0h1m12 0h2m3 0h1m1 0h1m43 0h1m8 0h1M104 264.5h1m85 0h1m40 0h1m55 0h1m20 0h1m2 0h1m1 0h1m13 0h1m2 0h1m4 0h1m1 0h1m65 0h1m8 0h1m6 0h1m3 0h1m5 0h1m9 0h1m10 0h1m79 0h1m3 0h1m3 0h1m9 0h1M106 265.5h1m1 0h1m89 0h1m20 0h1m3 0h1m4 0h1m14 0h1m29 0h1m24 0h1m6 0h1m1 0h1m5 0h1m4 0h1m2 0h1m2 0h1m2 0h1m3 0h1m92 0h1m10 0h1m8 0h1m7 0h1m1 0h1m14 0h1m29 0h1m24 0h1m6 0h1m6 0h1m4 0h1m3 0h1m2 0h1M108 266.5h1m84 0h1m3 0h1m2 0h2m5 0h1m15 0h1m7 0h1m15 0h1m53 0h1m1 0h1m2 0h1m19 0h1m7 0h1m70 0h1m12 0h2m3 0h1m3 0h1m17 0h1m2 0h1m7 0h1m15 0h1m53 0h1m3 0h1m3 0h1m17 0h1M103 267.5h1m3 0h1m70 0h1m5 0h1m3 0h1m28 0h1m70 0h1m21 0h1m9 0h1m83 0h1m5 0h1m3 0h1m2 0h1m3 0h1m3 0h1m6 0h2m9 0h1m8 0h1m11 0h1m58 0h1M104 268.5h1m95 0h1m13 0h1m18 0h1m65 0h2m1 0h1m2 0h3m118 0h1m4 0h1m7 0h1m6 0h1m77 0h1m5 0h1m5 0h1m2 0h1M109 269.5h2m77 0h1m4 0h1m2 0h1m4 0h1m3 0h1m2 0h2m12 0h1m3 0h1m5 0h1m23 0h1m48 0h1m4 0h1m5 0h1m2 0h1m4 0h1m1 0h1m7 0h1m84 0h1m4 0h3m1 0h1m1 0h2m3 0h1m3 0h1m1 0h1m6 0h1m13 0h1m19 0h1m6 0h1m35 0h1m3 0h2m1 0h1m1 0h2m5 0h1M136 270.5h1m61 0h1m1 0h1m2 0h1m4 0h1m2 0h2m2 0h1m1 0h2m4 0h2m39 0h1m39 0h1m18 0h1m1 0h1m2 0h2m93 0h1m3 0h1m5 0h1m1 0h3m2 0h3m1 0h1m4 0h2m79 0h1m5 0h1m12 0h1m1 0h1M110 271.5h1m1 0h1m78 0h1m14 0h1m5 0h1m7 0h2m12 0h1m76 0h1m3 0h1m5 0h1m2 0h1m13 0h1m93 0h1m4 0h1m5 0h1m1 0h2m9 0h1m78 0h2m3 0h1m7 0h2M104 272.5h1m16 0h1m69 0h1m19 0h2m3 0h1m3 0h1m2 0h1m15 0h1m49 0h1m14 0h1m2 0h2m13 0h1m6 0h1m10 0h1m76 0h1m7 0h1m5 0h1m4 0h2m2 0h1m1 0h1m3 0h1m1 0h1m65 0h1m17 0h1m14 0h1M109 273.5h1m87 0h1m7 0h2m3 0h2m2 0h3m3 0h1m47 0h1m32 0h1m15 0h1m7 0h2m1 0h1m9 0h1m82 0h1m1 0h2m10 0h1m1 0h1m3 0h1m4 0h1m46 0h1m42 0h1m5 0h1m9 0h1M104 274.5h1m88 0h1m12 0h1m3 0h1m3 0h1m79 0h1m11 0h1m4 0h1m4 0h1m1 0h2m9 0h1m101 0h1m3 0h1m93 0h1m4 0h1m1 0h1m3 0h2m1 0h1m1 0h1M195 275.5h2m6 0h2m6 0h1m6 0h1m3 0h1m86 0h1m9 0h1m2 0h4m102 0h2m1 0h1m6 0h1m9 0h1m86 0h1m7 0h1m2 0h1m1 0h1m4 0h1M107 276.5h1m99 0h1m7 0h1m1 0h1m22 0h1m67 0h1m3 0h3m2 0h1m10 0h1m3 0h1m132 0h1m67 0h2m1 0h1m4 0h1m3 0h1m7 0h1M190 277.5h1m13 0h2m5 0h1m3 0h1m68 0h1m5 0h1m26 0h1m1 0h1m95 0h1m2 0h1m20 0h1m1 0h1m4 0h2m61 0h1m6 0h1m17 0h1m3 0h2m2 0h1m5 0h1m2 0h1M107 278.5h1m87 0h2m6 0h1m4 0h1m7 0h1m3 0h1m53 0h1m33 0h1m2 0h1m1 0h1m18 0h1m103 0h1m8 0h1m53 0h1m37 0h1m3 0h1m2 0h1M222 279.5h1m101 0h1m102 0h1m2 0h1m2 0h1m1 0h2m5 0h1m4 0h1m88 0h2m1 0h1m4 0h1m5 0h1M194 280.5h2m6 0h1m4 0h2m1 0h1m15 0h1m86 0h1m2 0h2m1 0h1m1 0h1m102 0h1m7 0h3m6 0h1m96 0h1m7 0h1M197 281.5h1m8 0h1m2 0h1m3 0h1m2 0h1m97 0h1m1 0h1m7 0h1m1 0h1m96 0h1m4 0h1m1 0h2m2 0h1m10 0h1m88 0h1m10 0h1m3 0h1m2 0h1M113 282.5h1m83 0h1m6 0h1m4 0h1m1 0h1m1 0h1m1 0h1m93 0h1m11 0h1m108 0h1m102 0h1m1 0h1M103 283.5h1m96 0h1m26 0h1m70 0h1m14 0h1m1 0h1m2 0h2m1 0h3m76 0h1m40 0h1m48 0h1m33 0h1m13 0h1m1 0h1m1 0h1m2 0h2m2 0h2M104 284.5h1m100 0h1m4 0h1m1 0h1m1 0h1m95 0h1m6 0h1m1 0h2m9 0h1m95 0h1m3 0h1m4 0h1m1 0h1m105 0h1m2 0h2M208 285.5h1m224 0h1m11 0h1m89 0h1M106 286.5h1m96 0h1m2 0h1m6 0h1m4 0h1m97 0h1m2 0h1m3 0h1m7 0h1m97 0h1m4 0h1m8 0h1m101 0h1M105 287.5h1m101 0h2m110 0h1m2 0h1m8 0h1m99 0h2m1 0h1m1 0h1m105 0h1m4 0h1M206 288.5h1m111 0h1m108 0h1m120 0h1M191 289.5h1m15 0h1m5 0h1m105 0h1m97 0h1m23 0h1M111 290.5h1m91 0h2m7 0h1m2 0h1m6 0h1m92 0h1m113 0h1m10 0h1m7 0h1m96 0h1m7 0h1M209 291.5h1m4 0h1m104 0h1m3 0h1m102 0h1m5 0h1m7 0h1m90 0h1m5 0h1M214 292.5h1m104 0h1m4 0h1m114 0h1m97 0h1m6 0h1M211 293.5h1m10 0h1m1 0h1m95 0h1m112 0h1m14 0h1m85 0h1M223 294.5h1m92 0h1m111 0h1m10 0h1m3 0h1m97 0h2m2 0h1M105 295.5h1m110 0h1m1 0h1m97 0h1m1 0h1m7 0h1m102 0h1m112 0h1m7 0h1m1 0h1M206 296.5h1m106 0h1m209 0h1m15 0h1M329 297.5h1m206 0h1M209 298.5h1m102 0h1m116 0h2m106 0h1M111 299.5h1m100 0h1m19 0h1m86 0h1m224 0h1M317 300.5h1m9 0h1M213 301.5h1m224 0h1m21 0h1m83 0h1M438 302.5h1M312 304.5h1m2 0h1m11 0h1m224 0h1M217 305.5h1m91 0h1m6 0h1m126 0h1m82 0h1m7 0h1m6 0h1M203 307.5h1m119 0h1m226 0h1M192 308.5h1M214 309.5h1m224 0h1M541 310.5h1M213 313.5h1m102 0h1m122 0h1m100 0h1m1 0h1M214 316.5h1m225 0h1M319 321.5h1m224 0h1M105 322.5h1m225 0h1M103 332.5h1m224 0h1M242 340.5h1m225 0h1"/>
<path id="c" d="M153 179.5h1M133 185.5h1m19 0h1m205 0h1m18 0h1M141 188.5h1m225 0h1M134 189.5h1m225 0h1M367 192.5h1M156 193.5h1M160 196.5h1m224 0h1M148 197.5h1M142 198.5h1m28 0h1m189 0h1m35 0h1M157 199.5h1m7 0h1m224 0h1M151 200.5h1m6 0h1m208 0h1m9 0h1M126 201.5h1m234 0h1M144 202.5h1m106 0h1m119 0h1M129 203.5h1m25 0h1m21 0h1m107 0h1m95 0h1m9 0h1M345 204.5h1m4 0h1M133 206.5h1m224 0h1m24 0h1M143 207.5h1m13 0h1m211 0h1m12 0h1M131 208.5h1m225 0h1M134 209.5h1M167 210.5h1m224 0h1M126 211.5h1m42 0h1m183 0h1m23 0h1m17 0h1M150 212.5h1m228 0h1m20 0h1M122 213.5h1m19 0h1m11 0h1m17 0h1m6 0h1m167 0h1m16 0h1m2 0h1m7 0h1m101 0h1M119 214.5h1m21 0h2m20 0h1m180 0h1m23 0h1m8 0h1m108 0h1M142 215.5h1m13 0h2m337 0h1M130 216.5h1m138 0h1m11 0h1m73 0h1m31 0h1m7 0h1M160 217.5h1m12 0h1m189 0h1m31 0h1M250 218.5h1m22 0h1m230 0h1M132 219.5h1m10 0h1m10 0h1m99 0h1m11 0h1m4 0h1m26 0h1m58 0h1m1 0h1m19 0h1m111 0h1m4 0h1m16 0h1M119 220.5h1m37 0h1m97 0h1m9 0h1m9 0h1m211 0h1m2 0h1m10 0h1m9 0h1M149 221.5h1m17 0h1m95 0h1m9 0h1m11 0h1m88 0h1m16 0h2m98 0h1m7 0h1m10 0h1M106 222.5h1m30 0h1m33 0h1m92 0h1m122 0h1m79 0h1m6 0h1M121 223.5h1m5 0h1m11 0h1m129 0h1m94 0h1m119 0h1m9 0h1M126 224.5h1m6 0h1m143 0h1m9 0h1m53 0h1m2 0h1m5 0h2m6 0h1m44 0h1m97 0h2M119 225.5h1m3 0h1m34 0h1m80 0h1m34 0h1m69 0h1m2 0h1m35 0h1m10 0h1m69 0h1M136 226.5h1m19 0h1m12 0h1m14 0h1m94 0h1m62 0h1m5 0h1m13 0h1m18 0h1m12 0h1m84 0h1m30 0h1M121 227.5h1m51 0h1m5 0h1m2 0h1m61 0h1m9 0h1m9 0h1m125 0h1m79 0h1m8 0h1M119 228.5h1m12 0h1m39 0h1m53 0h1m24 0h1m4 0h1m4 0h1m7 0h1m127 0h1m78 0h1m4 0h1m4 0h1M119 229.5h1m69 0h1m84 0h1m7 0h1m5 0h1m65 0h1m141 0h1m1 0h1M113 230.5h1m5 0h1m49 0h1m12 0h1m97 0h1m225 0h1M113 231.5h1m134 0h1m7 0h2m12 0h1m30 0h1m36 0h1m135 0h1m6 0h1m27 0h1m17 0h1M116 232.5h1m113 0h1m7 0h1m1 0h1m40 0h1m181 0h1m1 0h1m3 0h1m3 0h1m32 0h1M120 233.5h1m50 0h1m66 0h1m52 0h1m110 0h1m113 0h1M112 234.5h1m4 0h1m68 0h1m56 0h1m53 0h1m44 0h1m176 0h1m2 0h1M114 235.5h1m60 0h1m8 0h1m78 0h1m28 0h1m45 0h1m1 0h1M106 236.5h1m123 0h1m18 0h1m11 0h1m5 0h1m22 0h1m41 0h1m13 0h1m135 0h1M236 237.5h1m29 0h1m15 0h1m12 0h1m39 0h1m159 0h1m6 0h2m6 0h1M106 238.5h1m135 0h1m4 0h1m6 0h1m44 0h1m40 0h1m61 0h1m48 0h1m20 0h1m6 0h1M189 239.5h1m59 0h1m1 0h1m210 0h1m11 0h1m13 0h1m22 0h1M171 240.5h1m16 0h1m46 0h1m12 0h1m20 0h1m21 0h1m2 0h1m173 0h1m18 0h1m29 0h1M111 241.5h1m4 0h1m1 0h1m51 0h1m68 0h1m3 0h1m1 0h1m25 0h1m141 0h1m56 0h1m17 0h1m24 0h1M113 242.5h1m76 0h1m41 0h1m12 0h1m2 0h2m41 0h1m5 0h1m13 0h1m104 0h1m49 0h1m3 0h1M115 243.5h1m73 0h1m2 0h1m36 0h1m4 0h1m173 0h2m2 0h1M301 244.5h1m39 0h1m128 0h1m14 0h1m28 0h1M185 245.5h2m1 0h1m1 0h1m60 0h1m89 0h1m71 0h1m1 0h1M267 246.5h1m140 0h1M105 247.5h1m234 0h1m75 0h1m5 0h1m58 0h1M303 248.5h1m114 0h1m32 0h1m11 0h1m2 0h1m13 0h1m11 0h1m36 0h1M108 249.5h1m11 0h1m107 0h1m2 0h1m15 0h1m93 0h1m101 0h1m15 0h1M192 250.5h1m101 0h1m129 0h1m95 0h1M107 251.5h1m6 0h1m116 0h1m1 0h1m4 0h1m93 0h1m182 0h1m17 0h1m2 0h1M179 252.5h1m119 0h1m111 0h1m42 0h1m4 0h1m14 0h2m68 0h1M202 253.5h1m87 0h1m122 0h1m52 0h1m48 0h1m4 0h1m9 0h1M190 254.5h1m110 0h1m114 0h1m12 0h1M193 255.5h1m17 0h1m91 0h1m110 0h1m22 0h1m90 0h1M295 256.5h1m11 0h1m172 0h1m40 0h1m4 0h1m9 0h1M189 257.5h1M194 258.5h1m31 0h1m8 0h2m67 0h1m24 0h1m89 0h1m30 0h2m10 0h1m61 0h1m10 0h1M226 259.5h1m8 0h1m66 0h1m1 0h1m24 0h1m218 0h1M111 260.5h1m86 0h1m30 0h1m35 0h1m70 0h1m153 0h1M105 261.5h1m222 0h1m1 0h1M109 262.5h1m86 0h1m225 0h1m11 0h1m107 0h1M111 263.5h1m115 0h1m8 0h1m175 0h1M204 264.5h1m8 0h1m11 0h1m4 0h1m69 0h1m3 0h1m17 0h1m133 0h1m56 0h1m23 0h1M215 265.5h1m225 0h1m7 0h1m103 0h1M199 266.5h1m86 0h1m20 0h1m117 0h1m85 0h1M206 267.5h1m1 0h1m29 0h1m66 0h1m23 0h1m3 0h1M206 268.5h1m102 0h2m215 0h1m1 0h1m2 0h1M115 269.5h1m83 0h1m63 0h1m35 0h1m4 0h1m4 0h1m1 0h1m10 0h1m17 0h1m81 0h1m11 0h1m7 0h1m8 0h1m95 0h1M103 270.5h1m110 0h1M218 271.5h1m11 0h1m92 0h1M209 272.5h1m7 0h1m100 0h1m1 0h1m113 0h1m8 0h1m21 0h1m64 0h1m2 0h1m10 0h1m1 0h1M103 273.5h1m91 0h1m2 0h2m225 0h1m6 0h1m7 0h1m110 0h1M309 274.5h1M318 275.5h1m102 0h1m128 0h1M205 276.5h1m222 0h1m1 0h1m107 0h2M209 277.5h1m101 0h1m1 0h1m6 0h1m4 0h1m104 0h1m4 0h1M104 278.5h1m106 0h1m103 0h1m4 0h1m4 0h1m4 0h1m90 0h1m19 0h1m92 0h1m11 0h1m3 0h1M201 279.5h1m6 0h1m1 0h1m6 0h1m93 0h1M326 280.5h1m93 0h1m7 0h1m122 0h1M205 281.5h1m13 0h1m91 0h1m225 0h1m2 0h2M437 282.5h1m2 0h1M324 283.5h1m222 0h1M211 284.5h1m12 0h1m96 0h1m114 0h1m13 0h1m84 0h1M541 287.5h1M543 288.5h1M316 290.5h1m223 0h2M207 291.5h1M207 293.5h1m228 0h1M319 294.5h1M104 297.5h1M204 298.5h1M542 300.5h1M319 301.5h1M328 328.5h1"/>
<path id="d" d="M155 191.5h1M132 192.5h1m224 0h1M135 201.5h1m224 0h1M355 203.5h1M120 204.5h1M360 209.5h1m125 0h1M151 210.5h1M379 213.5h1M260 214.5h1m3 0h1M368 215.5h1m14 0h1M135 218.5h1m224 0h1M133 219.5h1M481 220.5h1M166 221.5h1m94 0h1M263 222.5h1m225 0h1M275 224.5h1m12 0h1m211 0h1m12 0h1M349 225.5h1M117 226.5h1m59 0h1m87 0h1m136 0h1M126 228.5h1m224 0h1M128 229.5h1M408 230.5h1M176 233.5h1m97 0h1m70 0h1m154 0h1M293 234.5h1m44 0h1m130 0h1m48 0h1M112 235.5h1m10 0h1m175 0h1m224 0h1M238 236.5h1m225 0h1m4 0h1m46 0h1M278 237.5h1m212 0h1m15 0h1M115 238.5h1M268 239.5h1m207 0h1m17 0h1m25 0h1M413 240.5h1M187 241.5h1M243 242.5h1m213 0h1m10 0h1m6 0h1m47 0h1M183 243.5h1m48 0h1m108 0h1m75 0h1m39 0h1M288 244.5h1m238 0h1M411 245.5h1M179 248.5h1m61 0h1m13 0h1m149 0h1m119 0h1M116 249.5h1m2 0h1m98 0h1m126 0h1m108 0h1M291 250.5h1M307 251.5h1M226 252.5h1m22 0h1m201 0h1M110 253.5h1m80 0h1m143 0h1M103 258.5h1M196 259.5h1m25 0h1m198 0h1m25 0h1m80 0h1M214 260.5h1m224 0h1M107 262.5h1m101 0h1m123 0h1M186 263.5h1m265 0h1M526 264.5h1M532 266.5h1M307 267.5h3m221 0h1m1 0h3M535 268.5h1M216 269.5h1m4 0h1m224 0h1m89 0h1M204 271.5h1m224 0h1M206 272.5h1m225 0h1M215 274.5h1m224 0h1M199 275.5h1m12 0h1m212 0h1m11 0h1m106 0h1M202 276.5h1M221 277.5h1m314 0h1m8 0h1M542 280.5h1M315 281.5h1M315 282.5h1m225 0h1M545 284.5h1M316 287.5h1M103 328.5h1"/>
</defs>
<g fill="none" stroke="#1f77b4" stroke-width="1">
<use href="#a" x="1" y="0" opacity="0.064"/>
<use href="#a" x="-1" y="0" opacity="0.064"/>
<use href="#a" x="0" y="1" opacity="0.064"/>
<use href="#a" x="0" y="-1" opacity="0.064"/>
<use href="#a" opacity="0.5"/>
<use href="#b" x="1" y="0" opacity="0.1239"/>
<use href="#b" x="-1" y="0" opacity="0.1239"/>
<use href="#b" x="0" y="1" opacity="0.1239"/>
<use href="#b" x="0" y="-1" opacity="0.1239"/>
<use href="#b" opacity="0.75"/>
<use href="#c" x="1" y="0" opacity="0.18"/>
<use href="#c" x="-1" y="0" opacity="0.18"/>
<use href="#c" x="0" y="1" opacity="0.18"/>
<use href="#c" x="0" y="-1" opacity="0.18"/>
<use href="#c" opacity="0.875"/>
<use href="#d" x="1" y="0" opacity="0.2325"/>
<use href="#d" x="-1" y="0" opacity="0.2325"/>
<use href="#d" x="0" y="1" opacity="0.2325"/>
<use href="#d" x="0" y="-1" opacity="0.2325"/>
<use href="#d" opacity="0.9375"/>
</g>
<g fill="none" stroke="#000" stroke-width="1.111">
<rect x="80.5" y="58.5" width="496" height="369"/>
<path d="M103.5 427.5v5M159.5 427.5v5M215.5 427.5v5M272.5 427.5v5M328.5 427.5v5M384.5 427.5v5M441.5 427.5v5M497.5 427.5v5M553.5 427.5v5M80.5 414.5h-5M80.5 351.5h-5M80.5 288.5h-5M80.5 225.5h-5M80.5 162.5h-5M80.5 98.5h-5"/>
</g></svg>
<div class="t title" style="left:114px;top:34px;font-size:17px;transform:scaleX(1.065)">1SWASPJ073308.30-383846.9 Period 25498.30469s</div>
<div class="t xl" style="left:81.99px;top:435.5px;font-size:14px;transform:scaleX(1.18)">−1.00</div>
<div class="t xl" style="left:138.35px;top:435.5px;font-size:14px;transform:scaleX(1.18)">−0.75</div>
<div class="t xl" style="left:194.72px;top:435.5px;font-size:14px;transform:scaleX(1.18)">−0.50</div>
<div class="t xl" style="left:251.08px;top:435.5px;font-size:14px;transform:scaleX(1.18)">−0.25</div>
<div class="t xl" style="left:314.45px;top:435.5px;font-size:14px;transform:scaleX(1.04)">0.00</div>
<div class="t xl" style="left:370.81px;top:435.5px;font-size:14px;transform:scaleX(1.04)">0.25</div>
<div class="t xl" style="left:427.18px;top:435.5px;font-size:14px;transform:scaleX(1.04)">0.50</div>
<div class="t xl" style="left:483.55px;top:435.5px;font-size:14px;transform:scaleX(1.04)">0.75</div>
<div class="t xl" style="left:539.91px;top:435.5px;font-size:14px;transform:scaleX(1.04)">1.00</div>
<div class="t yl" style="left:49.5px;top:407.7px;font-size:14px;transform:scaleX(1.0)">0.0</div>
<div class="t yl" style="left:49.5px;top:344.53px;font-size:14px;transform:scaleX(1.0)">0.5</div>
<div class="t yl" style="left:49.5px;top:281.36px;font-size:14px;transform:scaleX(1.0)">1.0</div>
<div class="t yl" style="left:49.5px;top:218.19px;font-size:14px;transform:scaleX(1.0)">1.5</div>
<div class="t yl" style="left:49.5px;top:155.02px;font-size:14px;transform:scaleX(1.0)">2.0</div>
<div class="t yl" style="left:49.5px;top:91.85px;font-size:14px;transform:scaleX(1.0)">2.5</div>
<div class="t xlabel" style="left:306.5px;top:454.5px;font-size:14px;transform:scaleX(1.06)">phase</div>
<div class="t ylabel" style="left:26.5px;top:255.5px;font-size:14px;transform:rotate(-90deg) scaleX(1.12)">flux</div>
</body></html>
